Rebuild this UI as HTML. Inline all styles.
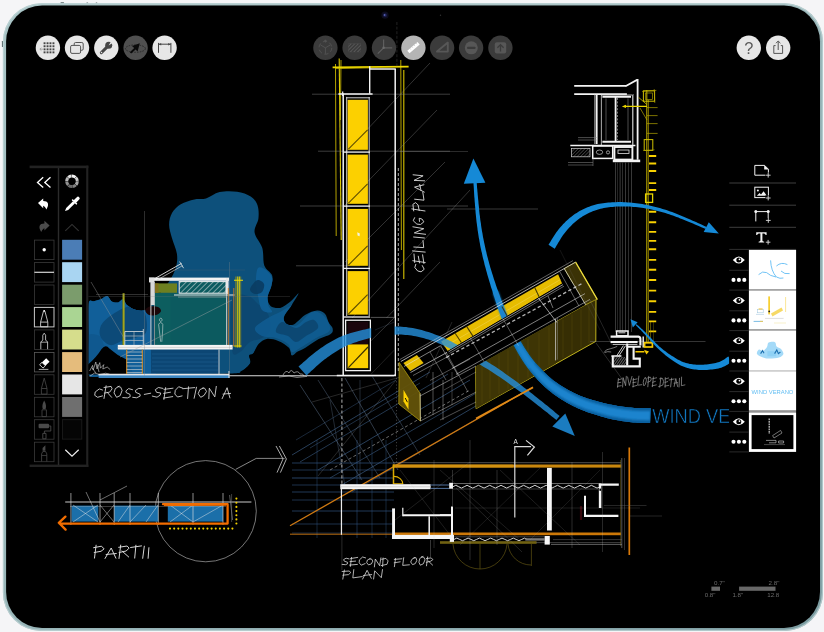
<!DOCTYPE html>
<html><head><meta charset="utf-8"><title>Trace</title>
<style>
html,body{margin:0;padding:0;background:#f5f5f7;}
body{width:824px;height:632px;overflow:hidden;font-family:"Liberation Sans",sans-serif;}
svg{display:block;position:absolute;left:0;top:0;}
text{font-family:"Liberation Sans",sans-serif;opacity:0.99;}
</style></head><body>
<svg width="824" height="632" viewBox="0 0 824 632">
<defs>
<linearGradient id="rimG" x1="0" x2="1" y1="0" y2="1"><stop offset="0" stop-color="#a9c4c6"/><stop offset="0.5" stop-color="#98b5b8"/><stop offset="1" stop-color="#7b9ba0"/></linearGradient>
<clipPath id="scr"><rect x="6.1" y="5.6" width="813.9" height="622.4" rx="36" ry="36"/></clipPath>
<clipPath id="canvasclip"><rect x="6" y="5.6" width="723.3" height="622.4"/></clipPath>
<clipPath id="hc"><rect x="348.3" y="43.6" width="12.6" height="8.5"/></clipPath>
<filter id="b1" x="-5%" y="-5%" width="110%" height="110%"><feGaussianBlur stdDeviation="1.1"/></filter>
<clipPath id="ribclip"><rect x="440" y="150" width="210.2" height="300"/></clipPath>
<pattern id="hatch" width="3.8" height="3.8" patternUnits="userSpaceOnUse" patternTransform="rotate(-45)"><line x1="0" y1="0" x2="3.8" y2="0" stroke="#e8e8e8" stroke-width="1.0"/></pattern>
<pattern id="hatch3" width="2" height="2" patternUnits="userSpaceOnUse" patternTransform="rotate(-55)"><line x1="0" y1="0" x2="2" y2="0" stroke="#d8d8d8" stroke-width="0.9"/></pattern>
<pattern id="hatch2" width="2.4" height="2.4" patternUnits="userSpaceOnUse" patternTransform="rotate(-45)"><line x1="0" y1="0" x2="2.4" y2="0" stroke="#666" stroke-width="1"/></pattern>
</defs>

<rect x="0.0" y="0.0" width="824.0" height="632.0" fill="#f5f5f7" opacity="1" rx="0" />
<rect x="60.5" y="2.2" width="3.6" height="1.4" fill="#59686a" opacity="1" rx="0.6" />
<rect x="86.4" y="2.4" width="1.8" height="1.2" fill="#59686a" opacity="1" rx="0.5" />
<rect x="95.6" y="2.4" width="1.8" height="1.2" fill="#59686a" opacity="1" rx="0.5" />
<rect x="1.9" y="41.0" width="1.6" height="6.0" fill="#59686a" opacity="1" rx="0.6" />
<rect x="2.9" y="3.3" width="820.1" height="627.7" rx="38.5" ry="38.5" fill="url(#rimG)"/>
<rect x="3.5" y="3.9" width="818.9" height="626.5" rx="38" ry="38" fill="none" stroke="#bdd3d4" stroke-width="1.1" opacity="0.8"/>
<rect x="6.1" y="5.6" width="813.9" height="622.4" rx="36" ry="36" fill="#000"/>
<circle cx="385" cy="15.2" r="3.6" fill="#0c0c1c"/><circle cx="385" cy="15.2" r="2" fill="#1a1d4a"/><circle cx="384.6" cy="15" r="0.9" fill="#5560b0"/>
<circle cx="440.5" cy="15.3" r="0.7" fill="#333"/>
<g clip-path="url(#scr)">
<g clip-path="url(#canvasclip)">
<clipPath id="blobclip"><path d="M169.1 224.7 C169.1 220.5 170.1 216.4 172.0 213.0 C173.9 209.6 177.1 206.6 180.8 204.3 C184.5 202.0 190.2 200.4 194.4 199.4 C198.6 198.4 201.8 199.6 206.0 198.4 C210.2 197.2 214.4 193.1 219.6 192.0 C224.8 190.9 231.9 190.9 237.1 191.7 C242.3 192.4 247.3 194.2 250.7 196.5 C254.1 198.8 256.2 201.5 257.5 205.2 C258.8 208.9 258.9 214.3 258.4 218.8 C257.9 223.3 253.9 227.5 254.6 232.4 C255.2 237.3 260.7 242.5 262.3 248.0 C263.9 253.5 262.7 260.9 264.3 265.4 C265.9 269.9 270.8 271.8 272.0 275.1 C273.2 278.5 272.2 281.8 271.5 285.5 C270.8 289.2 267.8 293.8 267.6 297.2 C267.4 300.6 268.4 304.1 270.5 305.9 C272.6 307.7 277.0 308.5 280.2 307.9 C283.4 307.2 286.8 304.4 289.9 302.0 C293.0 299.6 298.3 292.8 298.6 293.3 C298.9 293.8 294.2 301.1 291.8 305.0 C289.4 308.9 285.1 313.5 284.1 316.6 C283.1 319.7 284.4 322.1 286.0 323.4 C287.6 324.7 290.6 325.8 293.8 324.4 C297.0 322.9 301.5 317.0 305.4 314.7 C309.3 312.4 313.9 310.6 317.1 310.4 C320.4 310.2 323.0 311.7 324.9 313.7 C326.8 315.7 327.4 320.0 328.7 322.4 C330.0 324.8 332.3 326.4 332.6 328.3 C332.9 330.2 333.3 332.2 330.7 334.1 C328.1 336.0 321.3 337.6 317.1 339.9 C312.9 342.2 308.6 345.8 305.4 347.7 C302.2 349.6 300.0 350.3 297.7 351.6 C295.4 352.9 293.3 356.0 291.8 355.4 C290.3 354.8 291.1 350.1 288.9 347.7 C286.6 345.3 282.0 342.4 278.3 340.9 C274.6 339.4 269.9 338.4 266.6 338.9 C263.4 339.4 261.1 341.4 258.8 343.8 C256.5 346.2 254.6 351.6 253.0 353.5 C251.4 355.4 249.6 353.8 249.1 355.4 C248.6 357.0 251.4 360.6 250.1 363.2 C248.8 365.8 244.8 369.3 241.4 371.0 C238.0 372.7 244.9 372.9 229.7 373.5 C214.5 374.1 169.9 374.2 150.0 374.4 C130.1 374.5 120.2 374.4 110.0 374.4 C99.8 374.4 92.1 380.1 88.5 374.4 C84.9 368.7 88.5 351.7 88.5 340.0 C88.5 328.3 87.6 310.5 88.5 304.0 C89.4 297.5 92.0 302.0 94.0 301.2 C96.0 300.4 98.6 300.1 100.8 299.2 C103.0 298.3 105.3 295.6 107.2 296.0 C109.1 296.4 110.1 300.5 111.9 301.6 C113.7 302.7 116.4 302.8 118.2 302.4 C120.0 302.0 121.4 298.7 123.0 299.2 C124.6 299.7 125.3 303.8 127.7 305.6 C130.1 307.5 133.8 309.8 137.2 310.3 C140.6 310.8 144.8 311.1 148.3 308.7 C151.8 306.3 154.6 300.4 158.0 296.0 C161.4 291.6 165.8 286.8 168.8 282.0 C171.8 277.2 174.6 272.1 175.9 267.4 C177.2 262.7 177.6 258.6 176.9 253.8 C176.2 249.0 173.3 243.2 172.0 238.3 C170.7 233.5 169.1 228.9 169.1 224.7Z"/></clipPath>
<path d="M169.1 224.7 C169.1 220.5 170.1 216.4 172.0 213.0 C173.9 209.6 177.1 206.6 180.8 204.3 C184.5 202.0 190.2 200.4 194.4 199.4 C198.6 198.4 201.8 199.6 206.0 198.4 C210.2 197.2 214.4 193.1 219.6 192.0 C224.8 190.9 231.9 190.9 237.1 191.7 C242.3 192.4 247.3 194.2 250.7 196.5 C254.1 198.8 256.2 201.5 257.5 205.2 C258.8 208.9 258.9 214.3 258.4 218.8 C257.9 223.3 253.9 227.5 254.6 232.4 C255.2 237.3 260.7 242.5 262.3 248.0 C263.9 253.5 262.7 260.9 264.3 265.4 C265.9 269.9 270.8 271.8 272.0 275.1 C273.2 278.5 272.2 281.8 271.5 285.5 C270.8 289.2 267.8 293.8 267.6 297.2 C267.4 300.6 268.4 304.1 270.5 305.9 C272.6 307.7 277.0 308.5 280.2 307.9 C283.4 307.2 286.8 304.4 289.9 302.0 C293.0 299.6 298.3 292.8 298.6 293.3 C298.9 293.8 294.2 301.1 291.8 305.0 C289.4 308.9 285.1 313.5 284.1 316.6 C283.1 319.7 284.4 322.1 286.0 323.4 C287.6 324.7 290.6 325.8 293.8 324.4 C297.0 322.9 301.5 317.0 305.4 314.7 C309.3 312.4 313.9 310.6 317.1 310.4 C320.4 310.2 323.0 311.7 324.9 313.7 C326.8 315.7 327.4 320.0 328.7 322.4 C330.0 324.8 332.3 326.4 332.6 328.3 C332.9 330.2 333.3 332.2 330.7 334.1 C328.1 336.0 321.3 337.6 317.1 339.9 C312.9 342.2 308.6 345.8 305.4 347.7 C302.2 349.6 300.0 350.3 297.7 351.6 C295.4 352.9 293.3 356.0 291.8 355.4 C290.3 354.8 291.1 350.1 288.9 347.7 C286.6 345.3 282.0 342.4 278.3 340.9 C274.6 339.4 269.9 338.4 266.6 338.9 C263.4 339.4 261.1 341.4 258.8 343.8 C256.5 346.2 254.6 351.6 253.0 353.5 C251.4 355.4 249.6 353.8 249.1 355.4 C248.6 357.0 251.4 360.6 250.1 363.2 C248.8 365.8 244.8 369.3 241.4 371.0 C238.0 372.7 244.9 372.9 229.7 373.5 C214.5 374.1 169.9 374.2 150.0 374.4 C130.1 374.5 120.2 374.4 110.0 374.4 C99.8 374.4 92.1 380.1 88.5 374.4 C84.9 368.7 88.5 351.7 88.5 340.0 C88.5 328.3 87.6 310.5 88.5 304.0 C89.4 297.5 92.0 302.0 94.0 301.2 C96.0 300.4 98.6 300.1 100.8 299.2 C103.0 298.3 105.3 295.6 107.2 296.0 C109.1 296.4 110.1 300.5 111.9 301.6 C113.7 302.7 116.4 302.8 118.2 302.4 C120.0 302.0 121.4 298.7 123.0 299.2 C124.6 299.7 125.3 303.8 127.7 305.6 C130.1 307.5 133.8 309.8 137.2 310.3 C140.6 310.8 144.8 311.1 148.3 308.7 C151.8 306.3 154.6 300.4 158.0 296.0 C161.4 291.6 165.8 286.8 168.8 282.0 C171.8 277.2 174.6 272.1 175.9 267.4 C177.2 262.7 177.6 258.6 176.9 253.8 C176.2 249.0 173.3 243.2 172.0 238.3 C170.7 233.5 169.1 228.9 169.1 224.7Z" fill="#0d507b" opacity="1" />
<g clip-path="url(#blobclip)">
<path d="M86.0 290.0 C96.7 275.3 138.8 285.0 150.0 290.0 C161.2 295.0 153.0 310.8 153.0 320.0 C153.0 329.2 150.2 335.3 150.0 345.0 C149.8 354.7 162.7 372.5 152.0 378.0 C141.3 383.5 97.0 392.7 86.0 378.0 C75.0 363.3 75.3 304.7 86.0 290.0Z" fill="#115f99" opacity="1" />
<path d="M86.0 338.0 C88.3 331.0 97.0 334.8 100.0 336.0 C103.0 337.2 102.0 342.3 104.0 345.0 C106.0 347.7 108.3 349.5 112.0 352.0 C115.7 354.5 123.0 355.7 126.0 360.0 C129.0 364.3 136.7 375.0 130.0 378.0 C123.3 381.0 93.3 384.7 86.0 378.0 C78.7 371.3 83.7 345.0 86.0 338.0Z" fill="#0f588e" opacity="0.9" />
<path d="M105.6 319.8 C108.6 317.0 113.5 313.4 118.0 311.0 C122.5 308.6 128.7 305.9 132.5 305.6 C136.3 305.3 138.8 307.2 141.0 309.0 C143.2 310.8 145.2 312.7 146.0 316.6 C146.8 320.5 147.8 328.9 146.0 332.5 C144.2 336.1 138.8 336.7 135.0 338.0 C131.2 339.3 127.1 339.2 123.0 340.4 C118.9 341.6 114.0 345.6 110.3 345.1 C106.6 344.6 102.5 340.1 100.8 337.2 C99.1 334.3 99.4 330.6 100.2 327.7 C101.0 324.8 102.6 322.6 105.6 319.8Z" fill="#0c4a78" opacity="1" />
<path d="M232.0 300.0 C234.7 291.0 243.7 295.3 248.0 296.0 C252.3 296.7 254.7 301.0 258.0 304.0 C261.3 307.0 266.0 309.7 268.0 314.0 C270.0 318.3 271.0 326.0 270.0 330.0 C269.0 334.0 265.3 336.0 262.0 338.0 C258.7 340.0 253.7 339.7 250.0 342.0 C246.3 344.3 243.0 350.7 240.0 352.0 C237.0 353.3 233.3 358.7 232.0 350.0 C230.7 341.3 229.3 309.0 232.0 300.0Z" fill="#0c4670" opacity="0.9" />
<path d="M258.0 268.0 C259.7 266.0 263.5 268.0 266.0 270.0 C268.5 272.0 272.3 276.3 273.0 280.0 C273.7 283.7 270.8 288.0 270.0 292.0 C269.2 296.0 267.7 300.7 268.0 304.0 C268.3 307.3 273.0 311.0 272.0 312.0 C271.0 313.0 264.3 312.7 262.0 310.0 C259.7 307.3 259.0 300.7 258.0 296.0 C257.0 291.3 256.0 286.7 256.0 282.0 C256.0 277.3 256.3 270.0 258.0 268.0Z" fill="#10609a" opacity="0.85" />
<path d="M253.0 284.0 C254.3 282.3 256.2 280.0 258.0 280.0 C259.8 280.0 263.3 282.0 264.0 284.0 C264.7 286.0 263.5 290.3 262.0 292.0 C260.5 293.7 257.0 294.3 255.0 294.0 C253.0 293.7 250.3 291.7 250.0 290.0 C249.7 288.3 251.7 285.7 253.0 284.0Z" fill="#0a3c62" opacity="0.9" />
<path d="M268.0 318.0 C272.2 315.3 276.0 314.0 280.0 312.0 C284.0 310.0 291.0 304.7 292.0 306.0 C293.0 307.3 285.3 316.7 286.0 320.0 C286.7 323.3 291.7 327.3 296.0 326.0 C300.3 324.7 307.3 313.7 312.0 312.0 C316.7 310.3 321.0 313.0 324.0 316.0 C327.0 319.0 331.3 326.3 330.0 330.0 C328.7 333.7 321.0 335.0 316.0 338.0 C311.0 341.0 304.0 345.7 300.0 348.0 C296.0 350.3 294.0 352.7 292.0 352.0 C290.0 351.3 290.7 346.3 288.0 344.0 C285.3 341.7 280.3 339.3 276.0 338.0 C271.7 336.7 265.5 337.7 262.0 336.0 C258.5 334.3 254.0 331.0 255.0 328.0 C256.0 325.0 263.8 320.7 268.0 318.0Z" fill="#115d93" opacity="0.85" />
<path d="M282.0 322.0 C285.3 321.3 292.0 328.0 296.0 328.0 C300.0 328.0 303.0 323.3 306.0 322.0 C309.0 320.7 312.0 319.0 314.0 320.0 C316.0 321.0 319.3 325.3 318.0 328.0 C316.7 330.7 309.7 333.7 306.0 336.0 C302.3 338.3 299.0 342.0 296.0 342.0 C293.0 342.0 291.3 337.7 288.0 336.0 C284.7 334.3 277.0 334.3 276.0 332.0 C275.0 329.7 278.7 322.7 282.0 322.0Z" fill="#0c4670" opacity="0.9" />
</g>
<path d="M88 364.4 Q96 358 101.6 349 Q105.6 343.6 109.4 348.4 Q116.6 355 126.4 359.6 L127 374.6 L88 374.6 Z" fill="#000" opacity="1" />
<path d="M258.8 345.0 C261.0 342.8 263.4 340.9 266.6 340.5 C269.9 340.1 274.7 341.1 278.3 342.5 C281.9 343.9 285.9 346.6 288.0 349.0 C290.1 351.4 291.7 354.2 291.0 357.0 C290.3 359.8 288.8 363.5 284.0 366.0 C279.2 368.5 268.7 371.0 262.0 372.0 C255.3 373.0 245.9 373.5 244.0 372.0 C242.1 370.5 249.6 365.7 250.5 363.0 C251.4 360.3 249.0 357.6 249.5 356.0 C250.0 354.4 251.9 355.3 253.5 353.5 C255.1 351.7 256.6 347.2 258.8 345.0Z" fill="#000" opacity="1" />
<rect x="98.6" y="374.6" width="131.0" height="3.4" fill="#3d86c0" opacity="1" rx="0" />
<rect x="98.6" y="374.6" width="131.0" height="1.0" fill="#9fc6e6" opacity="1" rx="0" />
<rect x="151.5" y="293.0" width="75.5" height="52.0" fill="#0c5a5f" opacity="1" rx="0" />
<rect x="151.5" y="293.0" width="3.0" height="52.0" fill="#0d4f70" opacity="1" rx="0" />
<rect x="154.5" y="293.0" width="16.0" height="52.0" fill="#0e625e" opacity="0.55" rx="0" />
<rect x="151.0" y="349.5" width="68.0" height="24.0" fill="#0c4674" opacity="1" rx="0" />
<line x1="152.0" y1="354.0" x2="218.0" y2="354.0" stroke="#2a6a9c" stroke-width="0.6" opacity="0.7" />
<line x1="152.0" y1="358.0" x2="218.0" y2="358.0" stroke="#2a6a9c" stroke-width="0.6" opacity="0.7" />
<line x1="152.0" y1="362.0" x2="218.0" y2="362.0" stroke="#2a6a9c" stroke-width="0.6" opacity="0.7" />
<line x1="152.0" y1="366.0" x2="218.0" y2="366.0" stroke="#2a6a9c" stroke-width="0.6" opacity="0.7" />
<line x1="152.0" y1="370.0" x2="218.0" y2="370.0" stroke="#2a6a9c" stroke-width="0.6" opacity="0.7" />
<path d="M145.2 310.0 C145.4 308.6 147.9 307.0 150.0 306.5 C152.1 306.0 156.2 306.2 158.0 307.0 C159.8 307.8 161.2 309.7 161.0 311.0 C160.8 312.3 159.0 314.1 157.0 314.8 C155.0 315.5 151.0 315.8 149.0 315.0 C147.0 314.2 145.0 311.4 145.2 310.0Z" fill="#1c0608" opacity="1" />
<rect x="149.0" y="277.6" width="80.0" height="3.2" fill="#f2f2f2" opacity="1" rx="0" />
<rect x="149.0" y="277.6" width="5.5" height="4.8" fill="#e0e0e0" opacity="1" rx="0" />
<rect x="150.4" y="282.0" width="4.4" height="23.0" fill="#d8d8d8" opacity="1" rx="0" />
<rect x="150.4" y="305.0" width="1.0" height="40.0" fill="#cfcfcf" opacity="1" rx="0" />
<rect x="154.0" y="305.0" width="0.8" height="40.0" fill="#9a9a9a" opacity="1" rx="0" />
<rect x="155.0" y="283.4" width="22.0" height="9.4" fill="#6d8020" opacity="1" rx="0" />
<rect x="155.0" y="283.4" width="3.5" height="9.4" fill="#80701c" opacity="1" rx="0" />
<rect x="179.2" y="281.6" width="46.8" height="11.6" fill="#0c5b60" opacity="1" rx="0" />
<rect x="179.2" y="281.6" width="46.8" height="11.6" fill="url(#hatch)" stroke="#f0f0f0" stroke-width="1" opacity="1" rx="0" />
<rect x="226.0" y="278.0" width="2.6" height="16.0" fill="#e8e8e8" opacity="1" rx="0" />
<line x1="174.0" y1="295.0" x2="234.5" y2="295.0" stroke="#e8e8e8" stroke-width="1.2" opacity="1" />
<line x1="178.0" y1="297.0" x2="226.0" y2="297.0" stroke="#bdbdbd" stroke-width="0.6" opacity="1" />
<line x1="154.0" y1="279.0" x2="181.6" y2="263.4" stroke="#e8e8e8" stroke-width="0.9" opacity="1" />
<line x1="156.0" y1="280.6" x2="182.6" y2="265.6" stroke="#d0d0d0" stroke-width="0.7" opacity="1" />
<line x1="179.6" y1="261.6" x2="183.6" y2="268.2" stroke="#e8e8e8" stroke-width="0.8" opacity="1" />
<rect x="117.8" y="344.9" width="114.8" height="4.6" fill="#f4f4f4" opacity="1" rx="0" />
<line x1="117.8" y1="347.4" x2="232.6" y2="347.4" stroke="#bdbdbd" stroke-width="0.6" opacity="1" />
<line x1="226.6" y1="293.0" x2="226.6" y2="345.0" stroke="#d8d8d8" stroke-width="0.9" opacity="1" />
<line x1="219.0" y1="349.5" x2="219.0" y2="374.0" stroke="#d8d8d8" stroke-width="0.9" opacity="1" />
<line x1="98.6" y1="374.4" x2="229.0" y2="374.4" stroke="#e6e6e6" stroke-width="1.2" opacity="1" />
<line x1="229.0" y1="371.0" x2="229.0" y2="378.0" stroke="#e6e6e6" stroke-width="1" opacity="1" />
<line x1="229.0" y1="375.8" x2="394.0" y2="375.8" stroke="#dcdcdc" stroke-width="1.1" opacity="1" />
<line x1="235.9" y1="276.5" x2="235.9" y2="347.6" stroke="#b9a600" stroke-width="0.7" opacity="1" />
<line x1="237.4" y1="276.5" x2="237.4" y2="347.6" stroke="#e0cc00" stroke-width="0.9" opacity="1" />
<line x1="239.2" y1="276.5" x2="239.2" y2="347.6" stroke="#ecd800" stroke-width="1.2" opacity="1" />
<line x1="240.7" y1="276.5" x2="240.7" y2="347.6" stroke="#b9a600" stroke-width="0.6" opacity="1" />
<line x1="234.0" y1="280.3" x2="243.0" y2="280.3" stroke="#f1de00" stroke-width="1.1" opacity="1" />
<line x1="233.5" y1="346.0" x2="241.5" y2="346.0" stroke="#e9d500" stroke-width="1.0" opacity="1" />
<line x1="228.3" y1="288.0" x2="228.3" y2="345.0" stroke="#d27a1e" stroke-width="0.9" opacity="1" />
<line x1="233.8" y1="288.0" x2="233.8" y2="346.0" stroke="#d27a1e" stroke-width="0.9" opacity="1" />
<line x1="123.8" y1="293.3" x2="123.8" y2="345.0" stroke="#a8a81c" stroke-width="1.6" opacity="1" />
<line x1="122.6" y1="293.3" x2="122.6" y2="345.0" stroke="#6f7a18" stroke-width="0.7" opacity="1" />
<line x1="124.8" y1="331.5" x2="143.3" y2="331.5" stroke="#e0e0e0" stroke-width="0.8" opacity="1" />
<line x1="124.8" y1="336.0" x2="143.3" y2="336.0" stroke="#cfcfcf" stroke-width="0.6" opacity="1" />
<line x1="124.8" y1="340.5" x2="143.3" y2="340.5" stroke="#cfcfcf" stroke-width="0.6" opacity="1" />
<line x1="124.8" y1="331.5" x2="124.8" y2="345.0" stroke="#e0e0e0" stroke-width="0.8" opacity="1" />
<line x1="143.3" y1="329.0" x2="143.3" y2="345.0" stroke="#e0e0e0" stroke-width="0.8" opacity="1" />
<line x1="134.0" y1="331.5" x2="134.0" y2="345.0" stroke="#bdbdbd" stroke-width="0.6" opacity="1" />
<line x1="126.7" y1="349.5" x2="126.7" y2="374.0" stroke="#d98a1c" stroke-width="1.1" opacity="1" />
<line x1="142.3" y1="349.5" x2="142.3" y2="374.0" stroke="#d98a1c" stroke-width="1.1" opacity="1" />
<line x1="126.7" y1="352.0" x2="142.3" y2="352.0" stroke="#d6d6d6" stroke-width="0.7" opacity="0.85" />
<line x1="126.7" y1="355.5" x2="142.3" y2="355.5" stroke="#d6d6d6" stroke-width="0.7" opacity="0.85" />
<line x1="126.7" y1="359.0" x2="142.3" y2="359.0" stroke="#d6d6d6" stroke-width="0.7" opacity="0.85" />
<line x1="126.7" y1="362.5" x2="142.3" y2="362.5" stroke="#d6d6d6" stroke-width="0.7" opacity="0.85" />
<line x1="126.7" y1="366.0" x2="142.3" y2="366.0" stroke="#d6d6d6" stroke-width="0.7" opacity="0.85" />
<line x1="126.7" y1="369.5" x2="142.3" y2="369.5" stroke="#d6d6d6" stroke-width="0.7" opacity="0.85" />
<line x1="126.7" y1="372.5" x2="142.3" y2="372.5" stroke="#d6d6d6" stroke-width="0.7" opacity="0.85" />
<path d="M160.7 341.8 L159.4 331 L158.6 324.5 Q160.7 320.5 162.8 324.5 L162.6 331 L161.8 341.8 M160.7 318.2 a1.3 1.6 0 1 0 0.1 0" fill="none" stroke="#cfd8d8" stroke-width="0.6" opacity="1" />
<line x1="144.3" y1="211.0" x2="144.3" y2="376.0" stroke="#8a8a8a" stroke-width="0.6" opacity="0.7" />
<line x1="91.0" y1="282.0" x2="124.0" y2="338.0" stroke="#9a9a9a" stroke-width="0.6" opacity="0.7" />
<line x1="96.0" y1="294.5" x2="148.0" y2="294.5" stroke="#8a8a8a" stroke-width="0.5" opacity="0.7" />
<line x1="85.0" y1="296.3" x2="290.0" y2="296.3" stroke="#7a7a7a" stroke-width="0.5" opacity="0.55" />
<line x1="120.0" y1="357.0" x2="232.0" y2="300.0" stroke="#a8a8a8" stroke-width="0.6" opacity="0.7" />
<line x1="229.5" y1="262.0" x2="229.5" y2="378.0" stroke="#8a8a8a" stroke-width="0.5" opacity="0.6" />
<line x1="172.0" y1="270.0" x2="245.0" y2="270.0" stroke="#6a6a6a" stroke-width="0.4" opacity="0.5" />
<path d="M89.6 371 l3 -5.6 l0.6 4.6 l2.6 -8 l1.2 7 l2.8 -6.4 l0.6 5.6 l3.4 -3.6 l-1 4.4 l4.4 -2 l3 2.6 M89.6 376.4 l5 -3.4 l5 1.6 l6 -1.4 l4 1 M92 368 l4 5 M97 364 l2 8" fill="none" stroke="#d8d8d8" stroke-width="0.6" opacity="1" />
<path d="M283 375 q3 -6 6 -2 q2 -5 5 0 q4 -3 6 1 q3 -1 4 2 M279 377 l10 -1 l8 1.4 l10 -1" fill="none" stroke="#d8d8d8" stroke-width="0.6" opacity="1" />
<line x1="335.5" y1="64.0" x2="336.2" y2="236.0" stroke="#c8b400" stroke-width="0.9" opacity="1" />
<line x1="339.2" y1="58.6" x2="341.2" y2="240.0" stroke="#e0cc00" stroke-width="1.1" opacity="1" />
<line x1="341.0" y1="60.0" x2="340.4" y2="120.0" stroke="#d8c400" stroke-width="0.8" opacity="1" />
<line x1="400.8" y1="60.0" x2="401.4" y2="250.0" stroke="#c8b400" stroke-width="0.9" opacity="1" />
<line x1="403.8" y1="70.0" x2="403.8" y2="279.0" stroke="#d8c400" stroke-width="1.1" opacity="1" />
<line x1="332.6" y1="67.4" x2="408.6" y2="66.6" stroke="#ecd800" stroke-width="1.6" opacity="1" />
<line x1="336.0" y1="68.6" x2="372.0" y2="67.8" stroke="#c8b400" stroke-width="0.8" opacity="1" />
<line x1="312.0" y1="94.2" x2="450.0" y2="94.2" stroke="#8c8c8c" stroke-width="0.6" opacity="0.75" />
<line x1="318.0" y1="151.2" x2="450.0" y2="151.2" stroke="#8c8c8c" stroke-width="0.6" opacity="0.75" />
<line x1="300.0" y1="206.0" x2="468.0" y2="206.0" stroke="#8c8c8c" stroke-width="0.6" opacity="0.75" />
<line x1="296.0" y1="265.8" x2="360.0" y2="265.8" stroke="#8c8c8c" stroke-width="0.6" opacity="0.75" />
<line x1="345.0" y1="153.0" x2="430.0" y2="63.0" stroke="#8c8c8c" stroke-width="0.6" opacity="0.6" />
<line x1="345.0" y1="205.0" x2="437.0" y2="110.0" stroke="#8c8c8c" stroke-width="0.6" opacity="0.6" />
<line x1="345.0" y1="262.0" x2="445.0" y2="162.0" stroke="#8c8c8c" stroke-width="0.6" opacity="0.6" />
<line x1="352.0" y1="318.0" x2="470.0" y2="190.0" stroke="#8c8c8c" stroke-width="0.6" opacity="0.6" />
<line x1="375.0" y1="330.0" x2="440.0" y2="262.0" stroke="#8c8c8c" stroke-width="0.6" opacity="0.6" />
<line x1="447.0" y1="209.0" x2="538.0" y2="209.0" stroke="#8c8c8c" stroke-width="0.6" opacity="0.7" />
<line x1="400.0" y1="151.5" x2="468.0" y2="151.5" stroke="#8c8c8c" stroke-width="0.5" opacity="0.6" />
<rect x="347.6" y="99.8" width="20.3" height="50.0" fill="#fcd000" opacity="1" rx="0" />
<line x1="348.4" y1="149.2" x2="367.6" y2="129.8" stroke="#4a3c00" stroke-width="1.1" opacity="0.9" />
<rect x="347.6" y="154.6" width="20.3" height="49.2" fill="#fcd000" opacity="1" rx="0" />
<line x1="348.4" y1="203.2" x2="367.6" y2="183.8" stroke="#4a3c00" stroke-width="1.1" opacity="0.9" />
<rect x="347.6" y="208.9" width="20.3" height="56.9" fill="#fcd000" opacity="1" rx="0" />
<line x1="348.4" y1="265.2" x2="367.6" y2="245.8" stroke="#4a3c00" stroke-width="1.1" opacity="0.9" />
<rect x="347.6" y="271.1" width="20.3" height="43.5" fill="#fcd000" opacity="1" rx="0" />
<line x1="348.4" y1="314.0" x2="367.6" y2="294.6" stroke="#4a3c00" stroke-width="1.1" opacity="0.9" />
<rect x="345.6" y="320.2" width="24.8" height="50.4" fill="#000" stroke="#f2f2f2" stroke-width="1.3" opacity="1" rx="0" />
<rect x="347.6" y="321.8" width="20.6" height="22.6" fill="#1a050c" opacity="1" rx="0" />
<rect x="347.6" y="344.4" width="20.6" height="23.8" fill="#fcd000" opacity="1" rx="0" />
<line x1="348.4" y1="367.6" x2="368.0" y2="347.0" stroke="#3a3000" stroke-width="1.2" opacity="1" />
<line x1="343.2" y1="93.4" x2="343.2" y2="375.8" stroke="#f4f4f4" stroke-width="1.5" opacity="1" />
<line x1="346.7" y1="96.9" x2="346.7" y2="316.0" stroke="#e4e4e4" stroke-width="0.9" opacity="1" />
<line x1="346.4" y1="97.8" x2="369.6" y2="97.8" stroke="#e4e4e4" stroke-width="0.9" opacity="1" />
<line x1="369.2" y1="97.0" x2="369.2" y2="316.0" stroke="#e8e8e8" stroke-width="0.9" opacity="1" />
<line x1="338.4" y1="94.0" x2="372.6" y2="94.0" stroke="#f4f4f4" stroke-width="1.5" opacity="1" />
<line x1="342.7" y1="91.4" x2="342.7" y2="96.0" stroke="#f4f4f4" stroke-width="1.2" opacity="1" />
<line x1="343.6" y1="152.2" x2="370.0" y2="152.2" stroke="#f0f0f0" stroke-width="1.3" opacity="1" />
<line x1="343.6" y1="206.2" x2="370.0" y2="206.2" stroke="#f0f0f0" stroke-width="1.3" opacity="1" />
<line x1="343.6" y1="268.4" x2="370.0" y2="268.4" stroke="#f0f0f0" stroke-width="1.3" opacity="1" />
<line x1="343.6" y1="317.0" x2="370.0" y2="317.0" stroke="#f0f0f0" stroke-width="1.3" opacity="1" />
<line x1="369.7" y1="66.2" x2="369.7" y2="93.8" stroke="#f4f4f4" stroke-width="1.4" opacity="1" />
<line x1="369.0" y1="69.0" x2="395.8" y2="69.0" stroke="#f4f4f4" stroke-width="1.4" opacity="1" />
<line x1="395.2" y1="69.0" x2="395.2" y2="376.0" stroke="#f4f4f4" stroke-width="1.5" opacity="1" />
<line x1="336.8" y1="375.6" x2="396.0" y2="375.6" stroke="#f4f4f4" stroke-width="1.5" opacity="1" />
<line x1="398.4" y1="168.0" x2="398.4" y2="372.0" stroke="#9a9a9a" stroke-width="1.2" opacity="0.9" stroke-dasharray="3 2"/>
<line x1="370.6" y1="317.4" x2="394.8" y2="317.4" stroke="#8c8c8c" stroke-width="0.6" opacity="1" />
<line x1="396.9" y1="22.0" x2="396.9" y2="67.0" stroke="#6a6a6a" stroke-width="0.7" opacity="0.45" stroke-dasharray="3 1.6"/>
<path d="M357.2 232.2 l2.6 1.2 l-0.2 2.8 l-2 -0.6 z" fill="#f2f2e0" opacity="1" />
<path d="M8.1 1.2 L4.9 0.2 L1.4 3.1 L0.6 6.5 L3.1 9.6 L6.8 7.7 M11.7 -1.8 L9.9 10.6 M9.9 0.1 L18.4 -0.6 M9.5 4.9 L16.2 3.7 M8.9 9.3 L17.6 8.0 M21.5 -2.1 L20.3 10.6 M25.4 -0.8 L24.8 9.1 L31.8 8.4 M35.4 -1.0 L34.4 9.8 M38.1 11.0 L39.5 -0.3 L43.7 9.2 L45.6 -1.7 M54.7 0.0 L51.7 -1.4 L48.3 2.3 L47.9 6.0 L50.6 9.3 L53.4 7.3 L54.1 4.6 L51.0 4.9 M63.5 -2.8 L61.4 10.4 M61.5 -0.9 L68.1 -1.7 L69.8 1.1 L67.4 3.5 L61.8 4.6 M73.2 0.0 L72.2 9.4 L80.2 8.2 M80.3 9.7 L85.3 -0.1 L87.6 9.3 M82.0 6.4 L88.0 5.1 M91.6 10.0 L92.0 -0.6 L96.6 8.5 L97.6 -1.5" fill="none" stroke="#dedede" stroke-width="0.9" stroke-linecap="round" stroke-linejoin="round" opacity="1.0" transform="translate(414.6 272.4) rotate(-90)"/>
<line x1="292.0" y1="455.0" x2="430.0" y2="372.0" stroke="#3f628c" stroke-width="0.8" opacity="0.8" />
<line x1="300.0" y1="462.0" x2="448.0" y2="374.0" stroke="#3f628c" stroke-width="0.8" opacity="0.7" />
<line x1="318.0" y1="470.0" x2="470.0" y2="380.0" stroke="#3f628c" stroke-width="0.8" opacity="0.8" />
<line x1="330.0" y1="478.0" x2="478.0" y2="392.0" stroke="#3f628c" stroke-width="0.8" opacity="0.7" />
<line x1="340.0" y1="486.0" x2="486.0" y2="400.0" stroke="#3f628c" stroke-width="0.8" opacity="0.8" />
<line x1="352.0" y1="492.0" x2="480.0" y2="417.0" stroke="#3f628c" stroke-width="0.8" opacity="0.6" />
<line x1="310.0" y1="448.0" x2="420.0" y2="383.0" stroke="#3f628c" stroke-width="0.8" opacity="0.6" />
<line x1="296.0" y1="440.0" x2="396.0" y2="380.0" stroke="#3f628c" stroke-width="0.8" opacity="0.5" />
<line x1="300.0" y1="385.0" x2="362.0" y2="480.0" stroke="#6f88a8" stroke-width="0.6" opacity="0.7" />
<line x1="318.0" y1="380.0" x2="380.0" y2="478.0" stroke="#6f88a8" stroke-width="0.6" opacity="0.6" />
<line x1="345.0" y1="378.0" x2="398.0" y2="470.0" stroke="#6f88a8" stroke-width="0.6" opacity="0.7" />
<line x1="372.0" y1="376.0" x2="420.0" y2="455.0" stroke="#6f88a8" stroke-width="0.6" opacity="0.6" />
<line x1="330.0" y1="400.0" x2="345.0" y2="486.0" stroke="#6f88a8" stroke-width="0.6" opacity="0.5" />
<line x1="360.0" y1="380.0" x2="360.0" y2="480.0" stroke="#6f88a8" stroke-width="0.6" opacity="0.5" />
<line x1="312.0" y1="402.0" x2="404.0" y2="376.0" stroke="#9a9a9a" stroke-width="0.5" opacity="0.5" />
<line x1="318.0" y1="476.0" x2="396.0" y2="380.0" stroke="#9a9a9a" stroke-width="0.5" opacity="0.5" />
<line x1="292.0" y1="463.0" x2="394.0" y2="463.0" stroke="#365a8a" stroke-width="0.9" opacity="0.7" />
<line x1="292.0" y1="470.0" x2="394.0" y2="470.0" stroke="#365a8a" stroke-width="0.9" opacity="0.6" />
<line x1="292.0" y1="478.0" x2="394.0" y2="478.0" stroke="#365a8a" stroke-width="0.9" opacity="0.8" />
<line x1="292.0" y1="485.0" x2="394.0" y2="485.0" stroke="#365a8a" stroke-width="0.9" opacity="0.6" />
<line x1="292.0" y1="492.0" x2="394.0" y2="492.0" stroke="#365a8a" stroke-width="0.9" opacity="0.7" />
<line x1="292.0" y1="500.0" x2="394.0" y2="500.0" stroke="#365a8a" stroke-width="0.9" opacity="0.6" />
<line x1="292.0" y1="511.0" x2="394.0" y2="511.0" stroke="#365a8a" stroke-width="0.9" opacity="0.7" />
<line x1="292.0" y1="524.0" x2="394.0" y2="524.0" stroke="#365a8a" stroke-width="0.9" opacity="0.6" />
<line x1="292.0" y1="533.0" x2="394.0" y2="533.0" stroke="#365a8a" stroke-width="0.9" opacity="0.5" />
<line x1="317.0" y1="440.0" x2="317.0" y2="538.0" stroke="#365a8a" stroke-width="0.8" opacity="0.5" />
<line x1="357.0" y1="440.0" x2="357.0" y2="538.0" stroke="#365a8a" stroke-width="0.8" opacity="0.6" />
<line x1="372.0" y1="440.0" x2="372.0" y2="538.0" stroke="#365a8a" stroke-width="0.8" opacity="0.5" />
<line x1="386.0" y1="440.0" x2="386.0" y2="538.0" stroke="#365a8a" stroke-width="0.8" opacity="0.5" />
<line x1="341.9" y1="378.0" x2="341.9" y2="486.0" stroke="#bdbdbd" stroke-width="1.1" opacity="0.85" stroke-dasharray="3.2 2.2"/>
<line x1="341.9" y1="486.0" x2="341.9" y2="570.0" stroke="#8c8c8c" stroke-width="0.5" opacity="0.6" />
<line x1="396.6" y1="378.0" x2="396.6" y2="465.0" stroke="#8c8c8c" stroke-width="0.8" opacity="0.6" stroke-dasharray="1.2 2"/>
<line x1="330.0" y1="470.0" x2="470.0" y2="390.0" stroke="#9a9a9a" stroke-width="1" opacity="0.7" stroke-dasharray="3 2.4"/>
<polygon points="399.2,362.4 420.0,393.2 420.4,421.0 398.8,404.0" fill="#64540a" stroke="#c8b010" stroke-width="0.7" opacity="0.95" />
<polygon points="403.5,389.8 408.5,398.4 408.5,409.8 403.5,401.2" fill="#fcd000" opacity="1" />
<path d="M405.2 398 l2.2 4.2" fill="none" stroke="#221a00" stroke-width="1.0" opacity="1" />
<polygon points="475.5,366.5 596.0,298.8 595.8,341.4 476.1,408.7" fill="#383005" stroke="#d8c820" stroke-width="0.9" opacity="0.97" />
<polygon points="475.5,366.5 556.0,321.2 556.0,363.6 476.1,408.7" fill="#3f3606" opacity="0.9" />
<line x1="482.0" y1="364.8" x2="482.0" y2="403.4" stroke="#6a5c10" stroke-width="0.5" opacity="0.55" />
<line x1="490.0" y1="360.4" x2="490.0" y2="398.9" stroke="#6a5c10" stroke-width="0.5" opacity="0.55" />
<line x1="499.0" y1="355.3" x2="499.0" y2="393.8" stroke="#6a5c10" stroke-width="0.5" opacity="0.55" />
<line x1="508.0" y1="350.2" x2="508.0" y2="388.8" stroke="#6a5c10" stroke-width="0.5" opacity="0.55" />
<line x1="518.0" y1="344.6" x2="518.0" y2="383.1" stroke="#6a5c10" stroke-width="0.5" opacity="0.55" />
<line x1="528.0" y1="339.0" x2="528.0" y2="377.5" stroke="#6a5c10" stroke-width="0.5" opacity="0.55" />
<line x1="539.0" y1="332.8" x2="539.0" y2="371.3" stroke="#6a5c10" stroke-width="0.5" opacity="0.55" />
<line x1="549.0" y1="327.2" x2="549.0" y2="365.7" stroke="#6a5c10" stroke-width="0.5" opacity="0.55" />
<line x1="563.0" y1="319.3" x2="563.0" y2="357.8" stroke="#6a5c10" stroke-width="0.5" opacity="0.55" />
<line x1="572.0" y1="314.3" x2="572.0" y2="352.8" stroke="#6a5c10" stroke-width="0.5" opacity="0.55" />
<line x1="581.0" y1="309.2" x2="581.0" y2="347.7" stroke="#6a5c10" stroke-width="0.5" opacity="0.55" />
<line x1="589.0" y1="304.7" x2="589.0" y2="343.2" stroke="#6a5c10" stroke-width="0.5" opacity="0.55" />
<polygon points="564.2,268.5 575.6,262.1 597.0,299.1 585.6,304.8" fill="#3e3506" stroke="#bfae18" stroke-width="0.6" opacity="0.96" />
<polygon points="403.4,363.0 416.9,354.9 423.6,363.0 410.2,371.0" fill="#e6bc00" opacity="1" />
<polygon points="441.1,341.4 558.1,274.2 562.1,283.6 447.8,350.9" fill="#e6bc00" opacity="1" />
<line x1="444.6" y1="346.6" x2="560.4" y2="279.6" stroke="#f2d860" stroke-width="0.6" opacity="0.8" />
<polygon points="306.5,375.5 307.4,374.7 308.5,373.6 309.8,372.4 311.2,371.1 312.8,369.7 314.4,368.2 316.1,366.6 317.9,365.1 319.6,363.6 321.3,362.1 322.9,360.8 324.4,359.6 326.0,358.4 327.5,357.3 329.1,356.2 330.7,355.1 332.2,354.0 333.8,352.9 335.4,351.9 337.0,350.9 338.6,350.0 340.1,349.1 341.7,348.2 343.3,347.4 344.9,346.6 346.6,345.8 348.2,345.1 349.9,344.4 351.6,343.7 353.2,343.1 355.0,342.5 356.7,341.9 358.4,341.3 360.2,340.8 362.0,340.3 363.7,339.7 365.5,339.2 367.3,338.7 369.1,338.3 370.8,337.8 372.6,337.4 374.4,337.0 376.2,336.7 377.9,336.3 379.8,336.0 381.6,335.7 383.4,335.5 385.3,335.3 387.3,335.1 389.2,335.0 391.2,334.8 393.2,334.7 395.2,334.7 397.2,334.6 399.3,334.6 401.3,334.6 403.3,334.7 405.4,334.9 407.4,335.0 409.5,335.3 411.5,335.6 413.6,335.9 415.7,336.3 417.8,336.8 419.9,337.2 422.0,337.8 424.1,338.3 426.2,339.0 428.4,339.6 430.5,340.3 432.6,341.0 434.8,341.8 436.9,342.6 439.0,343.4 441.1,344.3 443.1,345.2 445.3,346.2 447.4,347.2 449.5,348.3 451.6,349.4 453.8,350.5 456.0,351.6 458.2,352.8 460.5,353.9 462.7,355.1 465.0,356.3 467.3,357.6 469.7,358.8 472.1,360.1 474.4,361.4 476.8,362.8 479.1,364.1 481.5,365.5 483.8,366.9 486.1,368.2 488.3,369.6 490.6,371.0 492.8,372.4 495.0,373.9 497.2,375.4 499.4,376.8 501.5,378.3 503.7,379.8 505.8,381.3 507.9,382.8 510.1,384.4 512.2,385.9 514.3,387.4 516.3,388.9 518.4,390.4 520.5,392.0 522.6,393.6 524.7,395.1 526.8,396.7 528.8,398.3 530.8,399.8 532.7,401.3 534.6,402.8 536.5,404.3 538.3,405.7 540.1,407.0 541.9,408.4 543.7,409.9 545.4,411.3 547.2,412.6 548.8,414.0 550.4,415.2 551.9,416.4 553.3,417.5 554.5,418.5 555.5,419.3 556.4,420.0 559.6,416.0 558.8,415.3 557.7,414.5 556.5,413.5 555.2,412.4 553.7,411.1 552.2,409.8 550.5,408.5 548.8,407.1 547.0,405.6 545.2,404.2 543.5,402.8 541.7,401.3 539.9,399.9 538.1,398.5 536.2,396.9 534.3,395.4 532.3,393.8 530.2,392.2 528.2,390.6 526.1,389.0 524.0,387.4 521.9,385.8 519.8,384.2 517.7,382.6 515.7,381.1 513.6,379.5 511.4,378.0 509.3,376.4 507.1,374.9 505.0,373.4 502.8,371.8 500.6,370.3 498.4,368.8 496.2,367.3 493.9,365.8 491.7,364.4 489.4,362.9 487.0,361.5 484.7,360.1 482.3,358.7 480.0,357.3 477.6,355.9 475.2,354.5 472.8,353.2 470.5,351.9 468.1,350.6 465.8,349.3 463.5,348.1 461.3,346.9 459.1,345.7 456.9,344.5 454.7,343.4 452.6,342.2 450.4,341.1 448.2,340.1 446.0,339.0 443.9,338.0 441.7,337.0 439.5,336.1 437.2,335.2 435.0,334.4 432.8,333.6 430.6,332.8 428.4,332.1 426.1,331.4 423.9,330.7 421.7,330.1 419.4,329.5 417.2,329.0 415.0,328.5 412.8,328.1 410.5,327.7 408.3,327.4 406.1,327.1 403.9,326.9 401.7,326.7 399.5,326.6 397.3,326.5 395.2,326.5 393.0,326.5 390.9,326.5 388.8,326.5 386.7,326.6 384.7,326.7 382.6,326.8 380.6,327.0 378.6,327.2 376.6,327.4 374.6,327.7 372.7,328.0 370.8,328.3 368.8,328.6 366.9,329.0 365.0,329.4 363.1,329.8 361.3,330.3 359.4,330.7 357.5,331.2 355.6,331.7 353.7,332.2 351.8,332.8 349.9,333.3 348.0,334.0 346.2,334.6 344.3,335.3 342.4,336.0 340.5,336.8 338.7,337.6 336.8,338.5 335.0,339.4 333.2,340.4 331.4,341.4 329.6,342.4 327.8,343.5 326.1,344.6 324.3,345.7 322.6,346.9 320.9,348.0 319.2,349.2 317.6,350.4 315.8,351.7 314.0,353.2 312.1,354.7 310.2,356.3 308.4,357.8 306.6,359.4 304.9,360.9 303.3,362.3 301.8,363.7 300.5,364.8 299.4,365.8 298.5,366.5" fill="#2490dc" opacity="0.8" />
<polygon points="552.3,426.6 565.3,413.6 574.8,436.1" fill="#1b7cc0" opacity="1" />
<rect x="371.2" y="318.0" width="23.3" height="56.0" fill="#000" opacity="1" rx="0" />
<line x1="371.2" y1="340.6" x2="394.4" y2="317.6" stroke="#8c8c8c" stroke-width="0.6" opacity="0.6" />
<line x1="371.2" y1="374.0" x2="394.4" y2="350.0" stroke="#7a7a7a" stroke-width="0.5" opacity="0.5" />
<line x1="375.0" y1="330.0" x2="394.4" y2="322.0" stroke="#6f88a8" stroke-width="0.5" opacity="0.4" />
<polygon points="473.4,182.1 473.5,183.0 473.5,184.0 473.6,185.3 473.7,186.6 473.8,188.1 473.9,189.8 474.0,191.4 474.1,193.2 474.2,194.9 474.3,196.7 474.5,198.5 474.6,200.2 474.7,201.8 474.9,203.6 475.0,205.4 475.2,207.2 475.3,209.0 475.5,210.9 475.6,212.7 475.8,214.6 476.0,216.5 476.2,218.5 476.4,220.4 476.6,222.3 476.9,224.2 477.1,226.1 477.4,228.0 477.6,229.9 477.9,231.8 478.2,233.8 478.5,235.7 478.8,237.7 479.2,239.6 479.5,241.6 479.9,243.5 480.2,245.4 480.6,247.4 481.0,249.3 481.4,251.2 481.9,253.1 482.3,255.1 482.7,257.0 483.2,258.9 483.7,260.8 484.2,262.8 484.6,264.7 485.2,266.7 485.7,268.6 486.2,270.6 486.8,272.6 487.3,274.6 487.9,276.6 488.5,278.6 489.1,280.6 489.7,282.6 490.3,284.6 490.9,286.7 491.6,288.7 492.3,290.8 492.9,292.9 493.6,295.0 494.3,297.1 495.0,299.3 495.7,301.5 496.4,303.7 497.2,305.9 498.0,308.2 498.7,310.4 499.5,312.6 500.3,314.8 501.2,317.1 502.0,319.2 502.9,321.4 503.8,323.6 504.7,325.7 505.6,327.9 506.5,330.0 507.5,332.2 508.5,334.3 509.5,336.5 510.5,338.6 511.5,340.7 512.6,342.8 513.7,344.9 514.8,346.9 515.9,348.9 517.0,351.0 518.1,353.0 519.3,355.0 520.5,357.0 521.7,359.0 523.0,361.0 524.3,363.0 525.7,365.0 527.1,366.9 528.5,368.8 530.0,370.7 531.5,372.6 533.0,374.4 534.6,376.3 536.2,378.1 537.8,379.9 539.5,381.7 541.3,383.5 543.1,385.2 544.9,386.9 546.8,388.6 548.8,390.2 550.8,391.8 552.8,393.4 554.9,394.9 557.1,396.4 559.3,397.9 561.6,399.4 563.8,400.8 566.1,402.2 568.4,403.5 570.8,404.7 573.1,406.0 575.4,407.1 577.8,408.3 580.3,409.3 582.7,410.3 585.2,411.3 587.7,412.2 590.2,413.0 592.6,413.8 595.1,414.6 597.5,415.3 599.8,416.0 602.1,416.7 604.3,417.3 606.5,417.9 608.8,418.4 610.9,418.9 613.1,419.4 615.2,419.8 617.3,420.2 619.4,420.6 621.4,420.9 623.4,421.2 625.3,421.5 627.3,421.8 629.2,422.1 631.2,422.3 633.3,422.4 635.4,422.6 637.5,422.7 639.5,422.8 641.5,422.9 643.4,422.9 645.1,423.0 646.7,423.0 648.1,423.0 649.2,423.1 650.1,423.1 650.7,408.3 649.6,408.3 648.4,408.3 646.9,408.2 645.4,408.2 643.7,408.2 641.9,408.2 640.0,408.1 638.1,408.1 636.2,408.0 634.4,407.9 632.6,407.7 630.8,407.5 629.0,407.4 627.2,407.2 625.3,407.0 623.4,406.7 621.6,406.5 619.6,406.2 617.7,405.9 615.8,405.6 613.8,405.2 611.8,404.8 609.8,404.4 607.7,403.9 605.5,403.4 603.3,402.9 601.0,402.3 598.7,401.8 596.4,401.1 594.1,400.5 591.7,399.8 589.4,399.1 587.2,398.4 584.9,397.6 582.7,396.7 580.6,395.9 578.4,394.9 576.2,393.9 574.0,392.9 571.8,391.8 569.6,390.7 567.4,389.5 565.3,388.3 563.2,387.0 561.1,385.8 559.1,384.5 557.1,383.1 555.2,381.8 553.4,380.4 551.6,379.0 549.9,377.6 548.1,376.1 546.5,374.6 544.8,373.0 543.2,371.4 541.6,369.8 540.0,368.2 538.5,366.5 537.0,364.9 535.5,363.2 534.1,361.5 532.7,359.8 531.4,358.0 530.0,356.2 528.8,354.4 527.5,352.6 526.3,350.7 525.0,348.8 523.8,346.9 522.7,345.0 521.5,343.1 520.3,341.1 519.2,339.2 518.1,337.2 517.0,335.2 515.9,333.2 514.9,331.2 513.8,329.2 512.8,327.1 511.8,325.1 510.8,323.0 509.8,320.9 508.9,318.8 508.0,316.8 507.0,314.7 506.1,312.6 505.3,310.4 504.4,308.3 503.6,306.1 502.7,303.9 501.9,301.8 501.1,299.6 500.3,297.5 499.6,295.3 498.8,293.2 498.1,291.1 497.3,289.1 496.6,287.0 495.9,285.0 495.3,283.0 494.6,281.0 493.9,279.0 493.3,277.1 492.7,275.1 492.1,273.2 491.5,271.2 490.9,269.3 490.3,267.4 489.8,265.4 489.2,263.5 488.7,261.6 488.2,259.7 487.7,257.8 487.2,255.9 486.7,254.0 486.3,252.1 485.8,250.2 485.4,248.3 485.0,246.5 484.6,244.6 484.2,242.7 483.8,240.8 483.4,238.8 483.0,236.9 482.7,235.0 482.4,233.1 482.0,231.2 481.7,229.3 481.4,227.4 481.1,225.5 480.9,223.6 480.6,221.7 480.3,219.9 480.1,218.0 479.9,216.1 479.6,214.2 479.4,212.4 479.2,210.5 479.1,208.7 478.9,206.8 478.7,205.0 478.5,203.3 478.4,201.5 478.2,199.8 478.0,198.1 477.9,196.4 477.7,194.7 477.6,192.9 477.4,191.2 477.3,189.5 477.1,187.9 477.0,186.4 476.9,185.0 476.8,183.8 476.7,182.7 476.6,181.9" fill="#1589d6" opacity="1" />
<polygon points="502.1,319.4 502.6,320.6 503.3,322.1 504.0,323.9 504.9,326.0 505.9,328.2 506.9,330.5 508.0,333.0 509.1,335.4 510.2,337.9 511.4,340.3 512.5,342.7 513.7,344.8 514.8,346.9 515.9,348.9 517.0,351.0 518.1,353.0 519.3,355.0 520.5,357.0 521.7,359.0 523.0,361.0 524.3,363.0 525.7,365.0 527.1,366.9 528.5,368.8 530.0,370.7 531.5,372.6 533.0,374.4 534.6,376.3 536.2,378.1 537.8,379.9 539.5,381.7 541.3,383.5 543.1,385.2 544.9,386.9 546.8,388.6 548.8,390.2 550.8,391.8 552.8,393.4 554.9,394.9 557.1,396.4 559.3,397.9 561.6,399.4 563.8,400.8 566.1,402.2 568.4,403.5 570.8,404.7 573.1,406.0 575.4,407.1 577.8,408.3 580.3,409.3 582.7,410.3 585.2,411.3 587.7,412.2 590.2,413.0 592.6,413.8 595.1,414.6 597.5,415.3 599.8,416.0 602.1,416.7 604.3,417.3 606.5,417.9 608.8,418.4 610.9,418.9 613.1,419.4 615.2,419.8 617.3,420.2 619.4,420.6 621.4,420.9 623.4,421.2 625.3,421.5 627.3,421.8 629.2,422.1 631.2,422.3 633.3,422.4 635.4,422.6 637.5,422.7 639.5,422.8 641.5,422.9 643.4,422.9 645.1,423.0 646.7,423.0 648.1,423.0 649.2,423.1 650.1,423.1 650.7,408.3 649.6,408.3 648.4,408.3 646.9,408.2 645.4,408.2 643.7,408.2 641.9,408.2 640.0,408.1 638.1,408.1 636.2,408.0 634.4,407.9 632.6,407.7 630.8,407.5 629.0,407.4 627.2,407.2 625.3,407.0 623.4,406.7 621.6,406.5 619.6,406.2 617.7,405.9 615.8,405.6 613.8,405.2 611.8,404.8 609.8,404.4 607.7,403.9 605.5,403.4 603.3,402.9 601.0,402.3 598.7,401.8 596.4,401.1 594.1,400.5 591.7,399.8 589.4,399.1 587.2,398.4 584.9,397.6 582.7,396.7 580.6,395.9 578.4,394.9 576.2,393.9 574.0,392.9 571.8,391.8 569.6,390.7 567.4,389.5 565.3,388.3 563.2,387.0 561.1,385.8 559.1,384.5 557.1,383.1 555.2,381.8 553.4,380.4 551.6,379.0 549.9,377.6 548.1,376.1 546.5,374.6 544.8,373.0 543.2,371.4 541.6,369.8 540.0,368.2 538.5,366.5 537.0,364.9 535.5,363.2 534.1,361.5 532.7,359.8 531.4,358.0 530.0,356.2 528.8,354.4 527.5,352.6 526.3,350.7 525.0,348.8 523.8,346.9 522.7,345.0 521.5,343.1 520.3,341.2 519.2,339.1 518.0,337.0 516.8,334.7 515.6,332.3 514.4,329.9 513.2,327.6 512.1,325.3 511.1,323.1 510.1,321.2 509.3,319.4 508.5,317.8 507.9,316.6" fill="#0b5c9a" opacity="0.55" />
<polygon points="528.8,369.1 529.6,370.1 530.7,371.4 532.0,372.9 533.4,374.6 535.1,376.4 536.8,378.4 538.7,380.4 540.6,382.5 542.6,384.5 544.6,386.5 546.7,388.4 548.7,390.2 550.8,391.8 552.8,393.4 554.9,394.9 557.1,396.4 559.3,397.9 561.6,399.4 563.8,400.8 566.1,402.2 568.4,403.5 570.8,404.7 573.1,406.0 575.4,407.1 577.8,408.3 580.3,409.3 582.7,410.3 585.2,411.3 587.7,412.2 590.2,413.0 592.6,413.8 595.1,414.6 597.5,415.3 599.8,416.0 602.1,416.7 604.3,417.3 606.5,417.9 608.8,418.4 610.9,418.9 613.1,419.4 615.2,419.8 617.3,420.2 619.4,420.6 621.4,420.9 623.4,421.2 625.3,421.5 627.3,421.8 629.2,422.1 631.2,422.3 633.3,422.4 635.4,422.6 637.5,422.7 639.5,422.8 641.5,422.9 643.4,422.9 645.1,423.0 646.7,423.0 648.1,423.0 649.2,423.1 650.1,423.1 650.7,408.3 649.6,408.3 648.4,408.3 646.9,408.2 645.4,408.2 643.7,408.2 641.9,408.2 640.0,408.1 638.1,408.1 636.2,408.0 634.4,407.9 632.6,407.7 630.8,407.5 629.0,407.4 627.2,407.2 625.3,407.0 623.4,406.7 621.6,406.5 619.6,406.2 617.7,405.9 615.8,405.6 613.8,405.2 611.8,404.8 609.8,404.4 607.7,403.9 605.5,403.4 603.3,402.9 601.0,402.3 598.7,401.8 596.4,401.1 594.1,400.5 591.7,399.8 589.4,399.1 587.2,398.4 584.9,397.6 582.7,396.7 580.6,395.9 578.4,394.9 576.2,393.9 574.0,392.9 571.8,391.8 569.6,390.7 567.4,389.5 565.3,388.3 563.2,387.0 561.1,385.8 559.1,384.5 557.1,383.1 555.3,381.8 553.4,380.4 551.6,378.9 549.6,377.2 547.7,375.4 545.8,373.5 543.9,371.7 542.2,369.9 540.5,368.1 538.9,366.5 537.5,365.1 536.3,363.8 535.2,362.9" fill="#0b5c9a" opacity="0.9" />
<g clip-path="url(#ribclip)">
<polygon points="493.0,292.9 493.4,294.2 493.9,295.7 494.6,297.6 495.3,299.7 496.0,302.0 496.9,304.4 497.7,306.9 498.6,309.4 499.6,312.0 500.5,314.5 501.4,316.9 502.3,319.1 503.2,321.3 504.1,323.4 505.0,325.6 506.0,327.7 506.9,329.9 507.9,332.0 508.9,334.1 509.9,336.2 511.0,338.3 512.1,340.4 513.1,342.5 514.3,344.5 515.4,346.6 516.5,348.6 517.7,350.6 518.8,352.6 520.0,354.6 521.2,356.6 522.5,358.5 523.8,360.5 525.1,362.5 526.5,364.4 527.9,366.3 529.3,368.2 530.8,370.0 532.3,371.8 533.9,373.6 535.5,375.4 537.1,377.2 538.8,379.0 540.5,380.7 542.2,382.4 544.0,384.1 545.9,385.8 547.8,387.4 549.7,389.0 551.7,390.5 553.8,392.0 555.9,393.5 558.1,395.0 560.3,396.4 562.5,397.8 564.8,399.2 567.1,400.5 569.4,401.7 571.7,403.0 574.0,404.1 576.3,405.2 578.7,406.3 581.1,407.3 583.5,408.3 586.0,409.2 588.4,410.0 590.9,410.8 593.3,411.6 595.7,412.3 598.1,413.0 600.4,413.6 602.7,414.3 604.9,414.8 607.1,415.4 609.3,415.9 611.5,416.4 613.6,416.8 615.7,417.2 617.7,417.6 619.8,418.0 621.8,418.3 623.7,418.6 625.7,418.8 627.6,419.1 629.5,419.3 631.5,419.5 633.5,419.7 635.6,419.8 637.6,419.9 639.6,420.0 641.6,420.1 643.4,420.1 645.2,420.2 646.7,420.2 648.1,420.2 649.3,420.2 650.2,420.3 650.6,411.1 649.6,411.1 648.3,411.1 646.9,411.0 645.3,411.0 643.6,411.0 641.8,411.0 639.9,410.9 638.0,410.8 636.1,410.7 634.2,410.6 632.3,410.5 630.5,410.3 628.7,410.1 626.8,409.9 625.0,409.6 623.1,409.4 621.1,409.1 619.2,408.8 617.3,408.5 615.3,408.1 613.3,407.7 611.2,407.3 609.2,406.9 607.1,406.4 604.9,405.8 602.7,405.3 600.4,404.7 598.1,404.0 595.7,403.4 593.4,402.7 591.0,402.0 588.7,401.2 586.4,400.4 584.1,399.6 581.9,398.7 579.7,397.8 577.5,396.8 575.3,395.7 573.1,394.6 570.9,393.5 568.7,392.3 566.5,391.1 564.4,389.8 562.2,388.5 560.2,387.2 558.1,385.8 556.2,384.4 554.3,383.0 552.4,381.6 550.7,380.2 548.9,378.7 547.2,377.1 545.5,375.6 543.9,374.0 542.3,372.3 540.7,370.7 539.1,369.0 537.6,367.3 536.1,365.6 534.7,363.8 533.2,362.1 531.9,360.4 530.6,358.6 529.3,356.8 528.0,354.9 526.8,353.0 525.6,351.2 524.4,349.3 523.2,347.3 522.0,345.4 520.9,343.4 519.7,341.5 518.6,339.5 517.5,337.5 516.5,335.5 515.4,333.5 514.4,331.4 513.4,329.4 512.4,327.3 511.4,325.2 510.5,323.2 509.5,321.1 508.6,319.0 507.7,316.9 506.8,314.7 505.8,312.4 504.9,310.0 504.0,307.5 503.0,305.0 502.1,302.5 501.3,300.1 500.5,297.9 499.7,295.8 499.1,293.9 498.5,292.4 498.0,291.1" fill="#1a84ce" opacity="1" filter="url(#b1)"/>
</g>
<polygon points="473.4,158.4 463.8,183.8 485.4,182.8" fill="#1589d6" opacity="1" />
<polygon points="447.8,350.9 562.1,283.6 573.1,283.6 585.6,304.8 475.5,366.5 458.0,376.0" fill="#000" opacity="1" />
<line x1="455.1" y1="333.3" x2="461.5" y2="342.8" stroke="#3a3000" stroke-width="1.1" opacity="0.9" />
<line x1="466.8" y1="326.6" x2="472.9" y2="336.1" stroke="#3a3000" stroke-width="1.1" opacity="0.9" />
<line x1="501.9" y1="306.5" x2="507.2" y2="315.9" stroke="#3a3000" stroke-width="1.1" opacity="0.9" />
<line x1="534.7" y1="287.6" x2="539.2" y2="297.1" stroke="#3a3000" stroke-width="1.1" opacity="0.9" />
<line x1="400.8" y1="361.5" x2="575.6" y2="262.1" stroke="#e2e2e2" stroke-width="0.8" opacity="0.95" />
<line x1="399.8" y1="359.6" x2="573.0" y2="260.6" stroke="#e2e2e2" stroke-width="0.6" opacity="0.7" />
<line x1="404.0" y1="366.5" x2="440.0" y2="346.0" stroke="#e2e2e2" stroke-width="0.7" opacity="0.8" />
<line x1="448.6" y1="351.8" x2="563.0" y2="284.6" stroke="#e2e2e2" stroke-width="0.7" opacity="0.9" />
<line x1="449.6" y1="353.4" x2="564.0" y2="286.2" stroke="#e2e2e2" stroke-width="0.6" opacity="0.7" />
<line x1="452.0" y1="368.4" x2="585.0" y2="293.6" stroke="#e2e2e2" stroke-width="0.7" opacity="0.8" />
<line x1="456.0" y1="374.4" x2="590.0" y2="299.4" stroke="#e2e2e2" stroke-width="0.7" opacity="0.75" />
<line x1="410.5" y1="372.5" x2="447.0" y2="352.4" stroke="#e2e2e2" stroke-width="0.8" opacity="0.85" />
<line x1="413.0" y1="375.5" x2="450.0" y2="355.4" stroke="#e2e2e2" stroke-width="0.6" opacity="0.7" />
<line x1="420.0" y1="396.0" x2="476.0" y2="366.0" stroke="#e2e2e2" stroke-width="0.7" opacity="0.7" />
<line x1="420.4" y1="421.0" x2="476.1" y2="392.0" stroke="#e2e2e2" stroke-width="0.7" opacity="0.6" />
<line x1="440.0" y1="420.0" x2="476.0" y2="402.0" stroke="#e2e2e2" stroke-width="0.6" opacity="0.6" />
<line x1="430.0" y1="380.5" x2="470.0" y2="359.0" stroke="#e2e2e2" stroke-width="0.6" opacity="0.6" />
<line x1="444.0" y1="390.0" x2="476.0" y2="372.0" stroke="#e2e2e2" stroke-width="0.5" opacity="0.6" />
<line x1="446.0" y1="357.6" x2="583.0" y2="283.0" stroke="#bdbdbd" stroke-width="1.3" opacity="0.95" stroke-dasharray="3.4 2.4"/>
<line x1="564.2" y1="268.5" x2="585.6" y2="304.8" stroke="#e2e2e2" stroke-width="0.8" opacity="0.9" />
<line x1="560.0" y1="272.0" x2="579.0" y2="306.0" stroke="#e2e2e2" stroke-width="0.6" opacity="0.7" />
<line x1="440.5" y1="345.5" x2="458.0" y2="375.0" stroke="#e2e2e2" stroke-width="0.7" opacity="0.7" />
<line x1="446.0" y1="352.0" x2="468.0" y2="392.0" stroke="#e2e2e2" stroke-width="0.6" opacity="0.6" />
<line x1="430.0" y1="352.0" x2="446.0" y2="380.0" stroke="#e2e2e2" stroke-width="0.6" opacity="0.6" />
<line x1="420.2" y1="393.4" x2="420.4" y2="421.0" stroke="#e2e2e2" stroke-width="0.7" opacity="0.8" />
<line x1="433.0" y1="372.0" x2="433.0" y2="415.0" stroke="#e2e2e2" stroke-width="0.6" opacity="0.6" />
<line x1="443.0" y1="380.0" x2="443.0" y2="420.0" stroke="#e2e2e2" stroke-width="0.6" opacity="0.6" />
<line x1="452.0" y1="372.0" x2="452.0" y2="405.0" stroke="#e2e2e2" stroke-width="0.5" opacity="0.5" />
<line x1="502.8" y1="318.5" x2="518.4" y2="345.6" stroke="#e2e2e2" stroke-width="0.6" opacity="0.6" />
<line x1="538.4" y1="298.0" x2="556.9" y2="322.5" stroke="#e2e2e2" stroke-width="0.9" opacity="0.75" />
<line x1="548.0" y1="296.0" x2="553.0" y2="308.0" stroke="#e2e2e2" stroke-width="0.7" opacity="0.7" />
<line x1="470.0" y1="337.6" x2="484.2" y2="362.0" stroke="#e2e2e2" stroke-width="0.6" opacity="0.6" />
<line x1="555.6" y1="319.0" x2="555.6" y2="360.4" stroke="#cfcfcf" stroke-width="0.9" opacity="0.9" />
<line x1="557.4" y1="318.0" x2="557.4" y2="359.6" stroke="#9a9a9a" stroke-width="0.6" opacity="0.8" />
<line x1="575.6" y1="262.1" x2="597.4" y2="299.6" stroke="#f0e040" stroke-width="1.2" opacity="1" />
<line x1="290.0" y1="525.8" x2="533.0" y2="387.0" stroke="#d07a12" stroke-width="1.3" opacity="1" />
<line x1="476.0" y1="418.5" x2="533.0" y2="387.5" stroke="#e08a18" stroke-width="1.6" opacity="1" />
<line x1="426.0" y1="378.0" x2="452.0" y2="322.0" stroke="#8c8c8c" stroke-width="0.5" opacity="0.5" />
<line x1="590.0" y1="300.0" x2="612.0" y2="345.0" stroke="#8c8c8c" stroke-width="0.5" opacity="0.5" />
<line x1="560.0" y1="250.0" x2="600.0" y2="330.0" stroke="#6a6a6a" stroke-width="0.4" opacity="0.5" />
<line x1="590.0" y1="341.6" x2="705.5" y2="341.6" stroke="#8c8c8c" stroke-width="0.6" opacity="0.7" />
<line x1="596.0" y1="343.0" x2="625.0" y2="383.0" stroke="#8c8c8c" stroke-width="0.5" opacity="0.6" />
<line x1="574.2" y1="85.8" x2="626.0" y2="85.8" stroke="#f4f4f4" stroke-width="1.7" opacity="1" />
<line x1="574.2" y1="94.2" x2="626.9" y2="94.2" stroke="#f4f4f4" stroke-width="1.7" opacity="1" />
<path d="M625.5 86.2 L636.9 80 L637.6 80 L637.6 159.7" fill="none" stroke="#f4f4f4" stroke-width="1.8" opacity="1" />
<line x1="596.6" y1="94.2" x2="596.6" y2="144.0" stroke="#f4f4f4" stroke-width="2.0" opacity="1" />
<line x1="594.6" y1="94.2" x2="594.6" y2="144.0" stroke="#cfcfcf" stroke-width="0.6" opacity="1" />
<rect x="601.3" y="95.0" width="31.3" height="50.5" fill="none" stroke="#d8d8d8" stroke-width="0.8" opacity="1" rx="0" />
<line x1="602.4" y1="96.8" x2="631.0" y2="96.8" stroke="#f4f4f4" stroke-width="2.0" opacity="1" />
<line x1="602.4" y1="141.8" x2="631.0" y2="141.8" stroke="#f4f4f4" stroke-width="2.0" opacity="1" />
<line x1="615.6" y1="96.6" x2="615.6" y2="141.6" stroke="#f4f4f4" stroke-width="1.8" opacity="1" />
<line x1="617.4" y1="98.0" x2="617.4" y2="140.0" stroke="#bdbdbd" stroke-width="0.8" opacity="0.9" stroke-dasharray="2 1.4"/>
<line x1="606.0" y1="98.4" x2="606.0" y2="140.0" stroke="#9a9a9a" stroke-width="0.5" opacity="1" />
<line x1="628.0" y1="98.4" x2="628.0" y2="140.0" stroke="#9a9a9a" stroke-width="0.5" opacity="1" />
<line x1="570.3" y1="145.5" x2="635.4" y2="145.5" stroke="#f4f4f4" stroke-width="1.5" opacity="1" />
<line x1="578.0" y1="137.6" x2="597.0" y2="137.6" stroke="#9a9a9a" stroke-width="0.5" opacity="1" />
<line x1="578.0" y1="140.0" x2="597.0" y2="140.0" stroke="#9a9a9a" stroke-width="0.5" opacity="1" />
<rect x="571.4" y="148.4" width="18.6" height="8.4" fill="url(#hatch2)" stroke="#cfcfcf" stroke-width="0.7" opacity="1" rx="0" />
<rect x="592.7" y="146.0" width="20.0" height="12.4" fill="none" stroke="#f4f4f4" stroke-width="1.5" opacity="1" rx="0" />
<ellipse cx="599.5" cy="152.2" rx="3.2" ry="2.2" fill="none" stroke="#cfcfcf" stroke-width="0.7"/><circle cx="608" cy="152.4" r="1.6" fill="none" stroke="#cfcfcf" stroke-width="0.7"/>
<rect x="614.4" y="147.0" width="18.0" height="12.6" fill="none" stroke="#f4f4f4" stroke-width="1.9" opacity="1" rx="0" />
<rect x="618.0" y="150.0" width="11.0" height="3.4" fill="none" stroke="#e0e0e0" stroke-width="0.8" opacity="1" rx="0" />
<rect x="612.8" y="159.6" width="27.4" height="2.6" fill="#f4f4f4" opacity="1" rx="0" />
<line x1="633.4" y1="94.0" x2="633.4" y2="145.0" stroke="#9a9a9a" stroke-width="0.6" opacity="1" />
<line x1="568.0" y1="162.5" x2="593.0" y2="162.5" stroke="#8c8c8c" stroke-width="0.5" opacity="1" />
<line x1="568.0" y1="165.0" x2="593.0" y2="165.0" stroke="#8c8c8c" stroke-width="0.5" opacity="1" />
<line x1="593.0" y1="158.4" x2="593.0" y2="166.0" stroke="#8c8c8c" stroke-width="0.5" opacity="1" />
<line x1="615.6" y1="162.6" x2="615.6" y2="332.0" stroke="#d0d0d0" stroke-width="0.55" opacity="0.55" />
<line x1="617.7" y1="162.6" x2="617.7" y2="332.0" stroke="#d0d0d0" stroke-width="0.55" opacity="0.4" />
<line x1="620.1" y1="162.6" x2="620.1" y2="332.0" stroke="#d0d0d0" stroke-width="0.55" opacity="0.55" />
<line x1="622.5" y1="162.6" x2="622.5" y2="332.0" stroke="#d0d0d0" stroke-width="0.55" opacity="0.4" />
<line x1="625.5" y1="162.6" x2="625.5" y2="332.0" stroke="#d0d0d0" stroke-width="0.55" opacity="0.5" />
<line x1="628.5" y1="162.6" x2="628.5" y2="332.0" stroke="#d0d0d0" stroke-width="0.55" opacity="0.4" />
<line x1="631.5" y1="162.6" x2="631.5" y2="332.0" stroke="#d0d0d0" stroke-width="0.55" opacity="0.5" />
<rect x="616.6" y="331.0" width="11.4" height="4.8" fill="none" stroke="#f4f4f4" stroke-width="1.5" opacity="1" rx="0" />
<line x1="618.4" y1="332.8" x2="625.4" y2="332.8" stroke="#d8d8d8" stroke-width="1.0" opacity="1" />
<path d="M610.6 336.6 H638.4 Q640.6 337 640.4 339.6 V345.4" fill="none" stroke="#f4f4f4" stroke-width="2.1" opacity="1" />
<line x1="610.6" y1="342.0" x2="637.6" y2="342.0" stroke="#f4f4f4" stroke-width="2.0" opacity="1" />
<line x1="612.7" y1="344.4" x2="637.4" y2="344.4" stroke="#c8c8c8" stroke-width="1.0" opacity="1" />
<path d="M627.2 343.4 V365.4 M627.2 346.8 H640.8" fill="none" stroke="#f4f4f4" stroke-width="2.1" opacity="1" />
<line x1="643.2" y1="336.4" x2="643.2" y2="347.6" stroke="#f4f4f4" stroke-width="1.4" opacity="1" />
<path d="M633.6 346.8 V358.6 H639.8 V366.4 H612.8 V356" fill="none" stroke="#f4f4f4" stroke-width="2.1" opacity="1" />
<line x1="611.4" y1="356.0" x2="621.4" y2="356.0" stroke="#f4f4f4" stroke-width="1.6" opacity="1" />
<rect x="614.0" y="357.0" width="12.0" height="8.4" fill="url(#hatch3)" opacity="1" rx="0" />
<path d="M625.6 345.6 L618.4 356.6 M623.4 345.6 L616.6 356" fill="none" stroke="#e0e0e0" stroke-width="0.9" opacity="1" />
<path d="M604.2 352.4 q1.6 -3.4 6 -3.6 q4 -1 7 -2.4 M604.6 352.6 q3 -1.6 6.6 -0.6" fill="none" stroke="#bdbdbd" stroke-width="0.6" opacity="1" />
<line x1="646.8" y1="90.0" x2="646.8" y2="342.0" stroke="#dcc800" stroke-width="0.9" opacity="1" />
<line x1="648.4" y1="100.0" x2="648.4" y2="342.0" stroke="#b8a400" stroke-width="0.7" opacity="1" />
<rect x="643.4" y="90.8" width="11.2" height="10.4" fill="none" stroke="#cfc000" stroke-width="1.0" opacity="1" rx="0" />
<rect x="645.6" y="93.0" width="7.0" height="6.4" fill="none" stroke="#a89c00" stroke-width="0.7" opacity="1" rx="0" />
<line x1="642.0" y1="91.6" x2="656.4" y2="90.4" stroke="#b8a800" stroke-width="0.6" opacity="1" />
<line x1="654.2" y1="89.0" x2="654.8" y2="103.0" stroke="#b8a800" stroke-width="0.6" opacity="1" />
<rect x="644.2" y="139.6" width="8.6" height="10.8" fill="none" stroke="#cfc000" stroke-width="1.0" opacity="1" rx="0" />
<line x1="643.0" y1="150.6" x2="654.6" y2="149.8" stroke="#a89c00" stroke-width="0.6" opacity="1" />
<rect x="645.6" y="194.0" width="7.0" height="8.4" fill="none" stroke="#e8d400" stroke-width="1.3" opacity="1" rx="0" />
<line x1="624.0" y1="106.4" x2="647.0" y2="106.4" stroke="#e8d400" stroke-width="1.1" opacity="1" />
<path d="M621.8 106.4 L626 104.8 L626 108 Z" fill="#e8d400" opacity="1" />
<line x1="638.6" y1="97.4" x2="647.0" y2="104.6" stroke="#cfc000" stroke-width="0.8" opacity="1" />
<line x1="640.0" y1="108.0" x2="647.0" y2="120.0" stroke="#b8a800" stroke-width="0.7" opacity="1" />
<line x1="647.0" y1="107.6" x2="657.6" y2="107.6" stroke="#b0a200" stroke-width="0.7" opacity="1" />
<line x1="647.0" y1="115.6" x2="657.6" y2="115.6" stroke="#b0a200" stroke-width="0.7" opacity="1" />
<line x1="647.0" y1="123.6" x2="657.6" y2="123.6" stroke="#b0a200" stroke-width="0.7" opacity="1" />
<line x1="647.0" y1="133.4" x2="657.6" y2="133.4" stroke="#b0a200" stroke-width="0.7" opacity="1" />
<line x1="649.0" y1="156.0" x2="656.2" y2="156.0" stroke="#f8d000" stroke-width="1.9" opacity="1" />
<line x1="649.0" y1="163.5" x2="656.2" y2="163.5" stroke="#f8d000" stroke-width="1.9" opacity="1" />
<line x1="649.0" y1="171.0" x2="656.2" y2="171.0" stroke="#f8d000" stroke-width="1.9" opacity="1" />
<line x1="649.0" y1="183.1" x2="656.2" y2="183.1" stroke="#f8d000" stroke-width="1.9" opacity="1" />
<line x1="649.0" y1="190.0" x2="656.2" y2="190.0" stroke="#f8d000" stroke-width="1.9" opacity="1" />
<line x1="649.0" y1="211.7" x2="656.2" y2="211.7" stroke="#f8d000" stroke-width="1.9" opacity="1" />
<line x1="649.0" y1="222.2" x2="656.2" y2="222.2" stroke="#f8d000" stroke-width="1.9" opacity="1" />
<line x1="649.0" y1="231.9" x2="656.2" y2="231.9" stroke="#f8d000" stroke-width="1.9" opacity="1" />
<line x1="649.0" y1="240.9" x2="656.2" y2="240.9" stroke="#f8d000" stroke-width="1.9" opacity="1" />
<line x1="649.0" y1="249.3" x2="656.2" y2="249.3" stroke="#f8d000" stroke-width="1.9" opacity="1" />
<line x1="649.0" y1="259.9" x2="656.2" y2="259.9" stroke="#f8d000" stroke-width="1.9" opacity="1" />
<line x1="649.0" y1="269.8" x2="656.2" y2="269.8" stroke="#f8d000" stroke-width="1.9" opacity="1" />
<line x1="649.0" y1="280.0" x2="656.2" y2="280.0" stroke="#f8d000" stroke-width="1.9" opacity="1" />
<line x1="649.0" y1="290.6" x2="656.2" y2="290.6" stroke="#f8d000" stroke-width="1.9" opacity="1" />
<line x1="649.0" y1="301.2" x2="656.2" y2="301.2" stroke="#f8d000" stroke-width="1.9" opacity="1" />
<line x1="649.0" y1="311.9" x2="656.2" y2="311.9" stroke="#f8d000" stroke-width="1.9" opacity="1" />
<line x1="649.0" y1="321.4" x2="656.2" y2="321.4" stroke="#f8d000" stroke-width="1.9" opacity="1" />
<line x1="649.0" y1="331.4" x2="656.2" y2="331.4" stroke="#f8d000" stroke-width="1.9" opacity="1" />
<rect x="644.6" y="342.8" width="7.8" height="4.2" fill="none" stroke="#f2c800" stroke-width="1.7" opacity="1" rx="0" />
<line x1="635.4" y1="351.7" x2="644.4" y2="351.7" stroke="#f2c800" stroke-width="1.6" opacity="1" />
<path d="M644 349.8 L649 351.4 L646.4 354.4 Z" fill="#f2c800" opacity="1" />
<line x1="650.5" y1="322.0" x2="650.5" y2="342.0" stroke="#b8a400" stroke-width="0.6" opacity="0.8" />
<line x1="653.4" y1="322.0" x2="653.4" y2="342.0" stroke="#a89400" stroke-width="0.5" opacity="0.7" />
<path d="M618.4 378.4 L617.5 387.3 M618.3 379.9 L621.8 378.8 M617.8 382.8 L620.8 382.3 M617.5 386.3 L621.2 385.7 M622.6 387.0 L623.1 377.6 L625.6 385.7 L626.3 376.3 M627.6 377.0 L629.4 385.5 L632.0 376.4 M633.4 378.3 L633.1 387.0 M632.9 379.8 L637.1 378.9 M632.8 382.7 L636.1 382.1 M632.7 386.6 L636.9 385.4 M638.9 376.1 L637.7 385.2 L641.8 384.7 M645.3 377.8 L643.8 379.5 L643.2 382.6 L643.9 385.9 L645.3 384.4 L646.4 380.7 L646.1 378.0 L645.0 377.8 M648.7 376.3 L647.8 386.8 M647.6 378.0 L650.4 377.2 L651.3 379.0 L650.4 381.2 L647.7 382.2 M653.4 376.9 L652.4 386.7 M652.6 378.7 L656.6 377.8 M652.6 382.3 L655.4 381.4 M652.0 385.9 L656.3 384.9 M660.9 377.6 L659.7 387.2 M659.7 378.8 L662.5 378.4 L663.6 381.4 L662.8 385.1 L658.6 386.6 M665.3 377.6 L665.1 387.3 M665.2 379.0 L668.6 378.0 M665.0 382.4 L667.7 381.6 M664.9 386.1 L668.8 385.4 M669.1 380.0 L674.2 379.0 M671.6 378.2 L670.6 386.9 M674.1 386.5 L675.8 378.5 L677.6 386.5 M674.1 383.2 L677.7 382.6 M679.5 378.3 L679.0 387.0 M681.6 377.1 L681.4 385.7 L684.9 384.9" fill="none" stroke="#9c9c9c" stroke-width="0.7" stroke-linecap="round" stroke-linejoin="round" opacity="1.0"/>
<polygon points="554.7,248.8 555.2,247.9 555.9,246.8 556.6,245.6 557.4,244.3 558.2,242.8 559.2,241.2 560.1,239.7 561.1,238.1 562.1,236.5 563.1,235.1 564.1,233.7 565.1,232.4 566.1,231.2 567.1,230.0 568.2,228.8 569.3,227.5 570.4,226.4 571.6,225.2 572.7,224.1 573.9,223.0 575.1,221.9 576.3,220.9 577.5,219.9 578.8,219.0 580.1,218.1 581.4,217.2 582.7,216.3 584.1,215.5 585.5,214.7 586.9,214.0 588.3,213.2 589.8,212.6 591.2,211.9 592.7,211.3 594.3,210.7 595.8,210.2 597.3,209.7 598.9,209.2 600.5,208.8 602.1,208.5 603.8,208.1 605.5,207.8 607.2,207.6 608.9,207.3 610.7,207.1 612.5,206.9 614.3,206.8 616.1,206.6 618.0,206.6 619.8,206.5 621.8,206.5 623.7,206.5 625.7,206.5 627.7,206.5 629.7,206.6 631.7,206.7 633.7,206.9 635.8,207.1 637.8,207.3 639.7,207.5 641.7,207.7 643.7,208.0 645.7,208.4 647.7,208.7 649.7,209.1 651.7,209.6 653.7,210.0 655.7,210.5 657.7,211.0 659.7,211.5 661.6,212.0 663.5,212.5 665.4,213.1 667.3,213.7 669.2,214.3 671.0,214.9 672.9,215.6 674.7,216.3 676.5,217.0 678.4,217.6 680.2,218.4 681.9,219.1 683.7,219.8 685.5,220.4 687.3,221.2 689.2,221.9 691.1,222.8 693.0,223.6 695.0,224.4 696.9,225.3 698.7,226.1 700.4,226.8 702.0,227.5 703.4,228.1 704.6,228.6 705.5,229.1 706.5,226.9 705.5,226.5 704.3,226.0 702.9,225.3 701.4,224.6 699.7,223.8 697.9,223.0 696.0,222.1 694.1,221.2 692.1,220.4 690.2,219.5 688.3,218.7 686.5,218.0 684.8,217.2 683.0,216.5 681.2,215.7 679.4,215.0 677.6,214.2 675.8,213.5 673.9,212.8 672.1,212.1 670.2,211.4 668.3,210.7 666.4,210.1 664.5,209.5 662.5,208.9 660.6,208.3 658.6,207.7 656.6,207.2 654.5,206.7 652.5,206.2 650.5,205.7 648.4,205.2 646.4,204.8 644.3,204.4 642.3,204.0 640.3,203.7 638.2,203.4 636.2,203.2 634.1,202.9 632.0,202.7 630.0,202.5 627.9,202.4 625.9,202.3 623.8,202.2 621.8,202.1 619.8,202.1 617.8,202.1 615.9,202.2 614.0,202.2 612.1,202.3 610.3,202.4 608.4,202.5 606.6,202.7 604.8,202.9 603.0,203.2 601.2,203.5 599.4,203.8 597.7,204.1 595.9,204.6 594.2,205.0 592.5,205.5 590.8,206.1 589.2,206.7 587.5,207.3 585.9,208.0 584.3,208.7 582.7,209.5 581.2,210.3 579.6,211.1 578.1,212.0 576.7,212.9 575.2,213.8 573.8,214.8 572.3,215.9 571.0,216.9 569.6,218.1 568.3,219.2 566.9,220.4 565.7,221.6 564.4,222.9 563.2,224.1 562.0,225.4 560.8,226.7 559.7,228.0 558.5,229.4 557.4,230.9 556.2,232.5 555.1,234.2 554.1,235.8 553.0,237.5 552.0,239.0 551.1,240.5 550.3,241.9 549.6,243.1 549.0,244.1 548.5,244.8" fill="#1589d6" opacity="1" />
<polygon points="718.8,233.5 703.7,232.1 708.8,222.2" fill="#1589d6" opacity="1" />
<polygon points="728.4,356.5 727.8,356.8 727.1,357.3 726.4,357.8 725.7,358.3 724.9,358.9 724.1,359.4 723.2,360.0 722.2,360.6 721.3,361.1 720.3,361.6 719.3,362.0 718.3,362.3 717.1,362.6 715.8,363.0 714.4,363.3 712.9,363.6 711.4,363.8 709.8,364.1 708.2,364.3 706.5,364.5 704.9,364.6 703.4,364.7 701.9,364.8 700.4,364.8 699.0,364.8 697.7,364.8 696.3,364.7 695.0,364.6 693.6,364.5 692.3,364.3 691.0,364.1 689.7,363.9 688.4,363.6 687.2,363.3 685.9,363.0 684.7,362.6 683.5,362.2 682.3,361.7 681.1,361.2 680.0,360.6 678.8,360.0 677.6,359.4 676.5,358.7 675.3,358.0 674.2,357.3 673.1,356.6 672.0,356.0 670.9,355.3 669.9,354.6 668.9,353.9 667.9,353.2 666.9,352.5 666.0,351.8 665.1,351.1 664.1,350.4 663.2,349.7 662.4,349.0 661.5,348.3 660.7,347.6 659.8,346.9 659.0,346.2 658.3,345.5 657.6,344.8 656.8,344.1 656.1,343.4 655.4,342.7 654.8,342.0 654.1,341.3 653.4,340.6 652.7,339.9 652.1,339.2 651.4,338.5 650.7,337.8 650.0,337.1 649.3,336.3 648.6,335.6 647.9,334.9 647.2,334.2 646.5,333.5 645.8,332.8 645.1,332.1 644.5,331.5 643.8,330.8 643.2,330.2 642.6,329.6 641.9,329.0 641.2,328.4 640.6,327.8 639.9,327.2 639.3,326.6 638.7,326.1 638.1,325.6 637.6,325.2 637.1,324.8 636.7,324.4 636.4,324.2 635.6,325.0 635.9,325.3 636.3,325.7 636.7,326.2 637.2,326.6 637.7,327.2 638.3,327.7 638.9,328.3 639.5,328.9 640.2,329.5 640.8,330.1 641.4,330.8 642.0,331.4 642.6,332.0 643.2,332.7 643.8,333.4 644.5,334.1 645.1,334.8 645.8,335.5 646.5,336.2 647.1,337.0 647.8,337.7 648.5,338.5 649.2,339.2 649.8,339.9 650.5,340.6 651.2,341.4 651.8,342.1 652.5,342.8 653.1,343.5 653.8,344.3 654.5,345.0 655.1,345.7 655.9,346.5 656.6,347.2 657.4,348.0 658.2,348.7 659.0,349.5 659.8,350.2 660.6,351.0 661.5,351.8 662.4,352.6 663.2,353.3 664.2,354.1 665.1,354.9 666.1,355.7 667.1,356.4 668.1,357.2 669.1,357.9 670.1,358.7 671.2,359.4 672.3,360.2 673.4,361.0 674.5,361.8 675.7,362.6 676.9,363.3 678.1,364.0 679.4,364.7 680.7,365.4 682.0,366.0 683.3,366.6 684.6,367.1 686.0,367.5 687.3,367.9 688.7,368.3 690.1,368.7 691.5,369.0 692.9,369.2 694.4,369.4 695.9,369.6 697.3,369.8 698.8,369.9 700.4,370.0 701.9,370.0 703.6,370.0 705.3,370.0 707.0,369.9 708.7,369.8 710.4,369.6 712.1,369.4 713.8,369.2 715.4,369.0 717.0,368.7 718.5,368.4 719.9,368.1 721.3,367.7 722.7,367.1 724.0,366.6 725.2,365.9 726.3,365.3 727.4,364.7 728.4,364.1 729.2,363.5 730.0,363.0 730.7,362.5 731.2,362.2 731.6,361.9" fill="#1589d6" opacity="1" />
<polygon points="630.5,319.2 637.6,322.2 632.8,327.6" fill="#1589d6" opacity="1" />
<text x="652.2" y="422.8" font-size="20.2" fill="#137bc6" stroke="#000" stroke-width="0.5" textLength="91.4" lengthAdjust="spacingAndGlyphs">WIND VER</text>
<line x1="393.0" y1="462.7" x2="621.0" y2="462.7" stroke="#8c8c8c" stroke-width="0.7" opacity="0.8" />
<rect x="392.8" y="464.5" width="228.4" height="3.1" fill="#c8860e" opacity="1" rx="0" />
<rect x="392.8" y="464.5" width="120.0" height="3.1" fill="#d89a14" opacity="0.6" rx="0" />
<line x1="290.0" y1="534.2" x2="392.8" y2="534.2" stroke="#d07a12" stroke-width="1.0" opacity="0.9" />
<rect x="392.8" y="532.5" width="228.2" height="2.7" fill="#cc7808" opacity="1" rx="0" />
<rect x="440.0" y="541.2" width="96.6" height="2.6" fill="#7c6c14" opacity="0.9" rx="0" />
<line x1="536.0" y1="542.6" x2="621.0" y2="542.6" stroke="#6a6a6a" stroke-width="0.6" opacity="1" />
<line x1="393.5" y1="464.5" x2="393.5" y2="484.0" stroke="#d8a800" stroke-width="1.5" opacity="1" />
<line x1="629.3" y1="447.6" x2="629.3" y2="555.0" stroke="#d87808" stroke-width="1.7" opacity="1" />
<line x1="621.8" y1="458.0" x2="621.8" y2="548.0" stroke="#9a9a9a" stroke-width="0.7" opacity="0.8" />
<line x1="624.3" y1="458.0" x2="624.3" y2="550.0" stroke="#8a8a8a" stroke-width="0.6" opacity="0.7" />
<line x1="620.4" y1="460.0" x2="620.4" y2="546.0" stroke="#7c6c14" stroke-width="0.6" opacity="0.8" />
<line x1="603.8" y1="505.5" x2="646.5" y2="505.5" stroke="#6a6a6a" stroke-width="0.5" opacity="0.7" />
<line x1="630.0" y1="516.0" x2="662.0" y2="516.0" stroke="#6a6a6a" stroke-width="0.5" opacity="0.7" />
<path d="M393.8 483.8 h9 a9 7.4 0 0 0 -9 -7.4" fill="none" stroke="#e0b000" stroke-width="1.1" opacity="1" />
<rect x="340.3" y="484.2" width="90.3" height="5.0" fill="#f6f6f6" opacity="1" rx="0" />
<line x1="340.3" y1="486.8" x2="430.6" y2="486.8" stroke="#c8c8c8" stroke-width="0.8" opacity="1" />
<line x1="430.6" y1="485.0" x2="449.5" y2="485.0" stroke="#5a7eb0" stroke-width="0.9" opacity="1" />
<line x1="430.6" y1="488.4" x2="449.5" y2="488.4" stroke="#5a7eb0" stroke-width="0.9" opacity="1" />
<rect x="449.2" y="482.8" width="3.8" height="5.9" fill="#f6f6f6" opacity="1" rx="0" />
<line x1="341.4" y1="489.0" x2="341.4" y2="534.8" stroke="#f6f6f6" stroke-width="1.1" opacity="1" />
<rect x="392.1" y="508.4" width="2.9" height="30.6" fill="#f6f6f6" opacity="1" rx="0" />
<rect x="392.1" y="534.9" width="61.3" height="4.1" fill="#f6f6f6" opacity="1" rx="0" />
<rect x="449.8" y="534.9" width="4.2" height="7.0" fill="#f6f6f6" opacity="1" rx="0" />
<line x1="402.8" y1="515.2" x2="451.2" y2="515.2" stroke="#f6f6f6" stroke-width="2.0" opacity="1" />
<line x1="402.8" y1="507.7" x2="402.8" y2="516.2" stroke="#f6f6f6" stroke-width="1.2" opacity="1" />
<line x1="429.2" y1="516.2" x2="429.2" y2="534.9" stroke="#f6f6f6" stroke-width="1.5" opacity="1" />
<line x1="452.0" y1="506.6" x2="452.0" y2="535.0" stroke="#f6f6f6" stroke-width="2.0" opacity="1" />
<line x1="440.0" y1="515.0" x2="452.0" y2="515.0" stroke="#f6f6f6" stroke-width="1.4" opacity="1" />
<path d="M453.0 486.7 Q455.8 483.9 458.6 486.7 Q461.5 489.5 464.3 486.7 Q467.1 483.9 469.9 486.7 Q472.8 489.5 475.6 486.7 Q478.4 483.9 481.2 486.7 Q484.1 489.5 486.9 486.7 Q489.7 483.9 492.5 486.7 Q495.4 489.5 498.2 486.7 Q501.0 483.9 503.8 486.7 Q506.7 489.5 509.5 486.7 Q512.3 483.9 515.1 486.7 Q518.0 489.5 520.8 486.7 Q523.6 483.9 526.4 486.7 Q529.3 489.5 532.1 486.7 Q534.9 483.9 537.7 486.7 Q540.6 489.5 543.4 486.7 Q546.2 483.9 549.0 486.7 Q551.9 489.5 554.7 486.7 Q557.5 483.9 560.3 486.7 Q563.2 489.5 566.0 486.7 Q568.8 483.9 571.6 486.7 Q574.5 489.5 577.3 486.7 Q580.1 483.9 582.9 486.7 Q585.8 489.5 588.6 486.7 Q591.4 483.9 594.2 486.7 Q597.1 489.5 599.9 486.7" fill="none" stroke="#f0f0f0" stroke-width="0.9" opacity="1" />
<line x1="453.0" y1="483.5" x2="598.8" y2="483.5" stroke="#bdbdbd" stroke-width="0.6" opacity="0.9" />
<line x1="453.0" y1="489.0" x2="598.0" y2="489.0" stroke="#8c8c8c" stroke-width="0.5" opacity="0.8" />
<path d="M454.0 539.4 Q456.8 536.8 459.6 539.4 Q462.5 542.0 465.3 539.4 Q468.1 536.8 470.9 539.4 Q473.8 542.0 476.6 539.4 Q479.4 536.8 482.2 539.4 Q485.1 542.0 487.9 539.4 Q490.7 536.8 493.5 539.4 Q496.4 542.0 499.2 539.4 Q502.0 536.8 504.8 539.4 Q507.7 542.0 510.5 539.4 Q513.3 536.8 516.1 539.4 Q519.0 542.0 521.8 539.4 Q524.6 536.8 527.4 539.4" fill="none" stroke="#e8e8e8" stroke-width="0.9" opacity="1" />
<line x1="454.0" y1="536.8" x2="544.0" y2="536.8" stroke="#9a9a9a" stroke-width="0.5" opacity="0.8" />
<rect x="525.3" y="538.2" width="19.2" height="2.4" fill="#7a7a7a" opacity="1" rx="0" />
<rect x="547.0" y="467.9" width="4.8" height="62.6" fill="#f6f6f6" opacity="1" rx="0" />
<rect x="544.6" y="536.0" width="5.2" height="8.6" fill="#f6f6f6" opacity="1" rx="0" />
<line x1="585.0" y1="495.7" x2="585.0" y2="516.6" stroke="#f6f6f6" stroke-width="2.0" opacity="1" />
<line x1="584.0" y1="515.9" x2="618.4" y2="515.9" stroke="#f6f6f6" stroke-width="2.1" opacity="1" />
<line x1="600.1" y1="483.5" x2="600.1" y2="507.9" stroke="#f6f6f6" stroke-width="2.5" opacity="1" />
<line x1="598.8" y1="484.6" x2="618.8" y2="484.6" stroke="#f6f6f6" stroke-width="2.1" opacity="1" />
<rect x="599.4" y="488.6" width="1.6" height="2.2" fill="#000" opacity="1" rx="0" />
<line x1="551.0" y1="544.4" x2="622.0" y2="544.4" stroke="#8a8a8a" stroke-width="0.7" opacity="1" />
<line x1="553.0" y1="539.6" x2="622.0" y2="539.6" stroke="#6a6a6a" stroke-width="0.5" opacity="1" />
<path d="M581 506 v14" fill="none" stroke="#5a0c14" stroke-width="2.2" opacity="0.6" />
<line x1="470.0" y1="440.0" x2="470.0" y2="560.0" stroke="#cfcfcf" stroke-width="0.6" opacity="0.35" />
<line x1="497.0" y1="470.0" x2="497.0" y2="545.0" stroke="#cfcfcf" stroke-width="0.6" opacity="0.35" />
<line x1="572.0" y1="462.0" x2="572.0" y2="548.0" stroke="#cfcfcf" stroke-width="0.6" opacity="0.35" />
<line x1="602.6" y1="452.0" x2="602.6" y2="552.0" stroke="#cfcfcf" stroke-width="0.6" opacity="0.35" />
<line x1="455.0" y1="508.0" x2="640.0" y2="508.0" stroke="#cfcfcf" stroke-width="0.6" opacity="0.22" />
<line x1="434.0" y1="460.0" x2="434.0" y2="548.0" stroke="#cfcfcf" stroke-width="0.6" opacity="0.3" />
<line x1="452.6" y1="470.0" x2="452.6" y2="506.0" stroke="#cfcfcf" stroke-width="0.6" opacity="0.4" />
<line x1="440.0" y1="470.0" x2="520.0" y2="540.0" stroke="#bdbdbd" stroke-width="0.5" opacity="0.3" />
<line x1="500.0" y1="470.0" x2="580.0" y2="545.0" stroke="#bdbdbd" stroke-width="0.5" opacity="0.3" />
<line x1="400.0" y1="470.0" x2="450.0" y2="535.0" stroke="#bdbdbd" stroke-width="0.5" opacity="0.3" />
<line x1="530.0" y1="540.0" x2="600.0" y2="470.0" stroke="#bdbdbd" stroke-width="0.5" opacity="0.25" />
<line x1="460.0" y1="545.0" x2="540.0" y2="468.0" stroke="#bdbdbd" stroke-width="0.5" opacity="0.25" />
<line x1="395.0" y1="520.0" x2="470.0" y2="462.0" stroke="#bdbdbd" stroke-width="0.5" opacity="0.3" />
<line x1="456.0" y1="488.0" x2="522.0" y2="552.0" stroke="#bdbdbd" stroke-width="0.5" opacity="0.35" />
<path d="M514.8 517.6 V446.6 H531 M526 440.4 L534.4 447 L527.4 455.4" fill="none" stroke="#dadada" stroke-width="1.2" opacity="1" />
<text x="513.6" y="443.6" font-size="6.4" fill="#e8e8e8">A</text>
<path d="M453 544 a27 27 0 0 0 27 25 M507 544 a27 27 0 0 1 -27 25 M480 544 v25 M508 544 a23 23 0 0 0 23 21 M531.4 544 v22" fill="none" stroke="#6a5c14" stroke-width="0.7" opacity="0.9" />
<path d="M349.1 558.9 L346.1 558.2 L343.6 559.6 L344.3 561.2 L347.6 562.3 L347.4 563.9 L345.5 564.7 L342.1 564.4 M351.5 557.4 L350.4 566.4 M350.5 558.6 L357.7 557.4 M350.0 561.6 L355.6 561.1 M349.5 565.1 L357.4 564.4 M365.6 557.9 L362.6 557.0 L359.4 559.9 L359.2 562.8 L361.2 565.2 L365.1 563.6 M370.2 558.5 L367.4 560.0 L366.7 562.7 L368.5 564.9 L371.4 563.9 L372.8 561.1 L371.5 559.0 L369.7 559.1 M374.4 566.9 L375.3 559.0 L379.6 565.7 L380.9 557.9 M383.1 558.0 L382.6 566.5 M381.7 559.3 L385.9 558.4 L388.1 560.9 L387.0 564.3 L381.1 565.6 M395.5 558.5 L394.4 566.7 M394.3 559.4 L401.9 558.8 M394.2 562.8 L400.2 561.8 M403.7 557.7 L402.7 565.4 L409.4 564.8 M414.6 557.6 L411.9 559.3 L410.7 562.0 L412.5 564.6 L415.2 563.7 L416.8 560.5 L415.9 557.6 L413.8 558.0 M422.9 556.5 L419.8 558.4 L418.9 562.2 L420.3 565.2 L423.3 563.8 L425.0 559.8 L423.8 557.2 L421.5 556.8 M427.6 556.9 L426.5 565.8 M426.3 558.6 L431.2 557.9 L432.9 559.6 L430.7 561.2 L426.3 562.3 M428.5 561.2 L432.6 565.1" fill="none" stroke="#dcdcdc" stroke-width="0.8" stroke-linecap="round" stroke-linejoin="round" opacity="1.0"/>
<line x1="430.5" y1="540.0" x2="430.5" y2="557.0" stroke="#9a9a9a" stroke-width="0.5" opacity="0.7" />
<path d="M344.4 570.0 L342.8 579.1 M342.1 571.5 L349.1 571.0 L350.8 572.5 L348.6 574.6 L342.8 575.2 M353.8 569.6 L352.8 577.9 L362.2 576.6 M362.6 579.1 L367.1 570.3 L371.3 578.3 M363.3 575.5 L371.7 574.6 M373.6 579.0 L374.7 570.8 L381.3 577.7 L382.5 569.6" fill="none" stroke="#dcdcdc" stroke-width="0.8" stroke-linecap="round" stroke-linejoin="round" opacity="1.0"/>
<circle cx="205.7" cy="511.2" r="50.6" fill="none" stroke="#a8a8a8" stroke-width="0.7"/>
<rect x="71.6" y="505.6" width="26.8" height="16.0" fill="#1b6fa9" opacity="1" rx="0" />
<rect x="114.2" y="505.6" width="44.1" height="16.0" fill="#1b6fa9" opacity="1" rx="0" />
<rect x="167.8" y="505.6" width="55.2" height="16.0" fill="#1b6fa9" opacity="1" rx="0" />
<rect x="98.8" y="505.6" width="15.0" height="16.0" fill="#000" opacity="1" rx="0" />
<line x1="65.2" y1="502.0" x2="251.4" y2="502.0" stroke="#e0e0e0" stroke-width="0.9" opacity="1" />
<line x1="70.0" y1="506.4" x2="226.0" y2="506.4" stroke="#bdbdbd" stroke-width="0.5" opacity="0.7" />
<line x1="70.9" y1="493.0" x2="70.9" y2="525.0" stroke="#e0e0e0" stroke-width="0.7" opacity="0.9" />
<line x1="100.0" y1="493.0" x2="100.0" y2="525.0" stroke="#e0e0e0" stroke-width="0.7" opacity="0.9" />
<line x1="114.2" y1="493.0" x2="114.2" y2="525.0" stroke="#e0e0e0" stroke-width="0.7" opacity="0.9" />
<line x1="130.0" y1="493.0" x2="130.0" y2="525.0" stroke="#e0e0e0" stroke-width="0.7" opacity="0.9" />
<line x1="158.3" y1="493.0" x2="158.3" y2="525.0" stroke="#e0e0e0" stroke-width="0.7" opacity="0.9" />
<line x1="193.0" y1="493.0" x2="193.0" y2="525.0" stroke="#e0e0e0" stroke-width="0.7" opacity="0.9" />
<line x1="223.0" y1="493.0" x2="223.0" y2="525.0" stroke="#e0e0e0" stroke-width="0.7" opacity="0.9" />
<line x1="73.0" y1="505.0" x2="98.0" y2="522.0" stroke="#e6e6e6" stroke-width="0.6" opacity="0.8" />
<line x1="98.0" y1="505.0" x2="73.0" y2="522.0" stroke="#e6e6e6" stroke-width="0.6" opacity="0.8" />
<line x1="86.0" y1="492.0" x2="100.0" y2="522.0" stroke="#e6e6e6" stroke-width="0.6" opacity="0.8" />
<line x1="100.0" y1="505.0" x2="114.0" y2="522.0" stroke="#e6e6e6" stroke-width="0.6" opacity="0.8" />
<line x1="114.0" y1="505.0" x2="100.0" y2="522.0" stroke="#e6e6e6" stroke-width="0.6" opacity="0.8" />
<line x1="118.0" y1="522.0" x2="130.0" y2="505.0" stroke="#e6e6e6" stroke-width="0.6" opacity="0.8" />
<line x1="130.0" y1="522.0" x2="146.0" y2="505.0" stroke="#e6e6e6" stroke-width="0.6" opacity="0.8" />
<line x1="146.0" y1="522.0" x2="158.0" y2="505.0" stroke="#e6e6e6" stroke-width="0.6" opacity="0.8" />
<line x1="170.0" y1="522.0" x2="193.0" y2="505.0" stroke="#e6e6e6" stroke-width="0.6" opacity="0.8" />
<line x1="193.0" y1="522.0" x2="223.0" y2="505.0" stroke="#e6e6e6" stroke-width="0.6" opacity="0.8" />
<line x1="170.0" y1="505.0" x2="193.0" y2="522.0" stroke="#e6e6e6" stroke-width="0.6" opacity="0.8" />
<line x1="100.0" y1="500.0" x2="127.0" y2="486.0" stroke="#e6e6e6" stroke-width="0.6" opacity="0.8" />
<path d="M163 504.2 H227.6 V523.6 H59.4 M65.4 516.6 L58.8 522.8 L65.6 529.6" fill="none" stroke="#f26d00" stroke-width="2.3" opacity="1" stroke-linejoin="round" stroke-linecap="round"/>
<line x1="164.0" y1="505.6" x2="226.0" y2="505.2" stroke="#f26d00" stroke-width="1.0" opacity="1" />
<line x1="170.0" y1="528.6" x2="236.4" y2="528.6" stroke="#f2d000" stroke-width="2.1" opacity="1" stroke-dasharray="0.01 4.15" stroke-linecap="round"/>
<line x1="236.4" y1="498.6" x2="236.4" y2="526.0" stroke="#f2d000" stroke-width="2.1" opacity="1" stroke-dasharray="0.01 4.15" stroke-linecap="round"/>
<line x1="229.6" y1="495.0" x2="232.6" y2="520.0" stroke="#9a9a9a" stroke-width="0.6" opacity="1" />
<line x1="231.6" y1="494.0" x2="231.6" y2="522.0" stroke="#7a7a7a" stroke-width="0.5" opacity="1" />
<path d="M235.6 469.4 L256.2 458.4 H284.6" fill="none" stroke="#a8a8a8" stroke-width="0.8" opacity="1" />
<path d="M276 446 L283 459 L277 472.6 M279.4 446 L286.4 459 L280.4 472.6" fill="none" stroke="#bdbdbd" stroke-width="0.9" opacity="1" />
<path d="M96.1 545.2 L94.5 558.1 M93.6 547.7 L101.5 546.2 L104.1 548.9 L101.0 551.3 L94.2 552.5 M105.0 558.5 L111.2 548.0 L115.9 558.2 M106.1 554.5 L116.3 553.5 M120.7 545.1 L119.0 558.5 M118.7 547.3 L127.1 546.0 L129.1 548.1 L126.2 551.0 L119.1 552.5 M122.0 551.0 L128.7 557.0 M130.6 547.5 L141.5 545.9 M135.9 545.2 L134.7 558.1 M144.3 546.2 L142.7 558.3 M148.9 547.7 L148.1 558.3" fill="none" stroke="#d6d6d6" stroke-width="1.0" stroke-linecap="round" stroke-linejoin="round" opacity="1.0"/>
<path d="M102.5 390.0 L99.3 388.9 L95.2 392.0 L94.7 395.3 L97.6 397.3 L102.5 395.9 M106.1 385.8 L104.0 398.5 M104.0 387.5 L111.1 386.4 L112.1 388.8 L109.7 392.1 L104.3 393.1 M107.1 392.2 L111.6 397.3 M119.1 386.2 L115.3 388.6 L114.0 392.9 L116.6 397.3 L120.2 395.6 L122.1 390.4 L120.7 387.2 L118.0 386.5 M132.5 389.7 L128.6 388.6 L125.9 390.9 L126.2 392.6 L130.0 394.4 L130.2 396.6 L127.5 397.9 L122.8 397.6 M141.9 388.6 L138.6 388.4 L135.4 390.5 L135.8 392.4 L139.9 394.1 L140.2 396.1 L136.6 397.8 L132.7 397.3 M144.3 394.4 L150.7 393.2 M162.9 388.4 L158.4 387.5 L155.3 389.7 L156.5 392.3 L160.7 393.0 L160.1 395.2 L157.0 397.2 L152.3 396.1 M165.6 387.6 L163.9 399.4 M164.0 389.4 L173.0 388.2 M163.7 393.4 L170.5 392.2 M163.5 398.1 L172.7 396.6 M182.7 388.2 L178.7 386.7 L175.3 390.3 L174.8 394.0 L177.5 397.0 L182.1 395.9 M182.8 388.7 L194.7 387.6 M188.5 386.8 L187.6 398.5 M196.5 387.2 L194.1 398.3 M203.3 388.0 L199.8 389.7 L198.2 393.7 L200.7 397.3 L204.1 395.4 L206.5 391.4 L204.6 388.2 L202.7 388.1 M208.8 398.7 L209.3 388.2 L214.8 396.9 L216.3 386.4 M222.1 398.7 L227.1 387.7 L229.9 397.9 M223.0 394.1 L230.6 393.4" fill="none" stroke="#dedede" stroke-width="0.85" stroke-linecap="round" stroke-linejoin="round" opacity="1.0"/>
</g>
<circle cx="47.9" cy="47.8" r="12.2" fill="#e7e7e7"/>
<rect x="43.6" y="42.3" width="1.9" height="1.9" fill="#454545" opacity="1" rx="0" />
<rect x="43.6" y="45.3" width="1.9" height="1.9" fill="#454545" opacity="1" rx="0" />
<rect x="43.6" y="48.4" width="1.9" height="1.9" fill="#454545" opacity="1" rx="0" />
<rect x="43.6" y="51.4" width="1.9" height="1.9" fill="#454545" opacity="1" rx="0" />
<rect x="46.6" y="42.3" width="1.9" height="1.9" fill="#454545" opacity="1" rx="0" />
<rect x="46.6" y="45.3" width="1.9" height="1.9" fill="#454545" opacity="1" rx="0" />
<rect x="46.6" y="48.4" width="1.9" height="1.9" fill="#454545" opacity="1" rx="0" />
<rect x="46.6" y="51.4" width="1.9" height="1.9" fill="#454545" opacity="1" rx="0" />
<rect x="49.5" y="42.3" width="1.9" height="1.9" fill="#454545" opacity="1" rx="0" />
<rect x="49.5" y="45.3" width="1.9" height="1.9" fill="#454545" opacity="1" rx="0" />
<rect x="49.5" y="48.4" width="1.9" height="1.9" fill="#454545" opacity="1" rx="0" />
<rect x="49.5" y="51.4" width="1.9" height="1.9" fill="#454545" opacity="1" rx="0" />
<rect x="52.5" y="42.3" width="1.9" height="1.9" fill="#454545" opacity="1" rx="0" />
<rect x="52.5" y="45.3" width="1.9" height="1.9" fill="#454545" opacity="1" rx="0" />
<rect x="52.5" y="48.4" width="1.9" height="1.9" fill="#454545" opacity="1" rx="0" />
<rect x="52.5" y="51.4" width="1.9" height="1.9" fill="#454545" opacity="1" rx="0" />
<path d="M43 49.2 H40 M41.4 47.8 L39.8 49.2 L41.4 50.6" fill="none" stroke="#9a9a9a" stroke-width="0.8" opacity="1" />
<circle cx="77.0" cy="47.8" r="12.2" fill="#e7e7e7"/>
<rect x="74.2" y="42.5" width="9.0" height="7.8" fill="#e7e7e7" stroke="#555" stroke-width="1" opacity="1" rx="1.4" />
<rect x="70.6" y="45.4" width="10.0" height="8.0" fill="#e7e7e7" stroke="#555" stroke-width="1" opacity="1" rx="1.4" />
<circle cx="106.3" cy="47.8" r="12.2" fill="#e7e7e7"/>
<path d="M101.3 52.7 L107.4 46.6" fill="none" stroke="#454545" stroke-width="3.0" opacity="1" stroke-linecap="round"/>
<circle cx="108.7" cy="45.2" r="3.5" fill="#454545"/>
<polygon points="108.6,45.4 111.6,40.6 113.4,42.6" fill="#e7e7e7" opacity="1" />
<circle cx="101.5" cy="52.4" r="0.75" fill="#e7e7e7"/>
<circle cx="135.6" cy="47.8" r="12.2" fill="#4f4f4f"/>
<ellipse cx="135.4" cy="48.6" rx="10" ry="3.7" fill="none" stroke="#222" stroke-width="0.8" stroke-dasharray="1.6 1.1"/>
<path d="M139.8 43.2 L137.6 51.6 L135.6 49.4 L131.2 53.6 L129.8 52.2 L134.2 48 L132 46 Z" fill="#0a0a0a" opacity="1" />
<circle cx="164.6" cy="47.8" r="12.2" fill="#e7e7e7"/>
<path d="M158.5 42.9 V52.8 M170.9 42.9 V52.8 M158.5 44.2 H170.9" fill="none" stroke="#454545" stroke-width="1.0" opacity="1" />
<path d="M158.8 44.2 l2.4 -1.3 v2.6 z M170.6 44.2 l-2.4 -1.3 v2.6 z" fill="#454545" opacity="1" />
<circle cx="325.4" cy="47.8" r="12.2" fill="#3b3b3b"/>
<circle cx="325.4" cy="47.8" r="6.4" fill="none" stroke="#575757" stroke-width="0.8" stroke-dasharray="4.2 2.5" />
<path d="M325.4 47.8 V53.8 M325.4 47.8 L320.6 45 M325.4 47.8 L330.2 45 M325.4 40 V42.6 M324.2 41.2 L325.4 39.8 L326.6 41.2" fill="none" stroke="#575757" stroke-width="0.8" opacity="1" />
<circle cx="354.6" cy="47.8" r="12.2" fill="#3b3b3b"/>
<rect x="348.3" y="43.6" width="12.6" height="8.5" fill="#575757" opacity="1" rx="0" />
<g clip-path="url(#hc)">
<line x1="337.5" y1="52.1" x2="346.0" y2="43.6" stroke="#3b3b3b" stroke-width="1.5" opacity="1" />
<line x1="341.1" y1="52.1" x2="349.6" y2="43.6" stroke="#3b3b3b" stroke-width="1.5" opacity="1" />
<line x1="344.7" y1="52.1" x2="353.2" y2="43.6" stroke="#3b3b3b" stroke-width="1.5" opacity="1" />
<line x1="348.3" y1="52.1" x2="356.8" y2="43.6" stroke="#3b3b3b" stroke-width="1.5" opacity="1" />
<line x1="351.9" y1="52.1" x2="360.4" y2="43.6" stroke="#3b3b3b" stroke-width="1.5" opacity="1" />
<line x1="355.5" y1="52.1" x2="364.0" y2="43.6" stroke="#3b3b3b" stroke-width="1.5" opacity="1" />
<line x1="359.1" y1="52.1" x2="367.6" y2="43.6" stroke="#3b3b3b" stroke-width="1.5" opacity="1" />
<line x1="362.7" y1="52.1" x2="371.2" y2="43.6" stroke="#3b3b3b" stroke-width="1.5" opacity="1" />
</g>
<circle cx="384.0" cy="47.8" r="12.2" fill="#3b3b3b"/>
<path d="M383.6 47.8 V39.4 M383.6 47.8 H392.2 M383.6 47.8 L377.8 53.7" fill="none" stroke="#5e5e5e" stroke-width="1.2" opacity="1" />
<circle cx="383.6" cy="47.8" r="1.2" fill="#6a6a6a"/>
<circle cx="413.4" cy="47.8" r="12.2" fill="#b5b5b5"/>
<path d="M408.4 52 L418.6 43.2" fill="none" stroke="#fff" stroke-width="3.4" opacity="1" />
<line x1="410.8" y1="49.5" x2="409.8" y2="48.3" stroke="#b5b5b5" stroke-width="0.6" opacity="1" />
<line x1="412.8" y1="47.7" x2="411.8" y2="46.5" stroke="#b5b5b5" stroke-width="0.6" opacity="1" />
<line x1="414.8" y1="46.0" x2="413.8" y2="44.8" stroke="#b5b5b5" stroke-width="0.6" opacity="1" />
<line x1="416.9" y1="44.2" x2="415.9" y2="43.0" stroke="#b5b5b5" stroke-width="0.6" opacity="1" />
<circle cx="442.1" cy="47.8" r="12.2" fill="#3b3b3b"/>
<path d="M437 51.6 H447.8 V42.6 Z" fill="none" stroke="#575757" stroke-width="1.9" opacity="1" stroke-linejoin="round"/>
<circle cx="471.1" cy="47.8" r="12.2" fill="#3b3b3b"/>
<circle cx="471.3" cy="47.8" r="6.5" fill="#575757"/>
<rect x="467.0" y="46.8" width="8.6" height="2.2" fill="#3b3b3b" opacity="1" rx="1" />
<circle cx="500.4" cy="47.8" r="12.2" fill="#3b3b3b"/>
<rect x="494.8" y="42.3" width="11.4" height="11.2" fill="#575757" opacity="1" rx="2" />
<path d="M500.5 51.4 V45.4 M497.4 47.8 L500.5 44.6 L503.6 47.8" fill="none" stroke="#3b3b3b" stroke-width="1.3" opacity="1" />
<circle cx="748.8" cy="47.8" r="12.2" fill="#e7e7e7"/>
<text x="748.7" y="54" font-size="16.4" fill="#5a5a5a" text-anchor="middle">?</text>
<circle cx="778.2" cy="47.8" r="12.2" fill="#e7e7e7"/>
<path d="M775.6 45.6 H773.8 V53.4 H782.6 V45.6 H780.8 M778.2 50 V41.2 M776 43.2 L778.2 41 L780.4 43.2" fill="none" stroke="#555" stroke-width="1.0" opacity="1" />
<rect x="29.6" y="165.6" width="58.8" height="301.6" fill="#000" opacity="1" rx="0" />
<rect x="29.6" y="165.6" width="58.8" height="2.6" fill="#222" opacity="1" rx="0" />
<rect x="29.6" y="464.6" width="58.8" height="2.4" fill="#222" opacity="1" rx="0" />
<rect x="86.2" y="165.6" width="2.1" height="301.4" fill="#222" opacity="1" rx="0" />
<rect x="57.8" y="168.0" width="1.4" height="297.0" fill="#2b2b2b" opacity="1" rx="0" />
<path d="M43.2 177.3 L37.5 182.4 L43.2 187.5 M50.5 177.3 L44.8 182.4 L50.5 187.5" fill="none" stroke="#fff" stroke-width="1.3" opacity="1" />
<path d="M38.0 203.0 l5.2 -4.6 v2.6 c5.0 0 6.4 3 3.2 8.6 c-1.2 -2.6 -2.6 -3.8 -3.2 -3.8 v2.4 z" fill="#fff" opacity="1" />
<path d="M49.6 225.4 l-5.2 -4.6 v2.6 c-5.0 0 -6.4 3 -3.2 8.6 c1.2 -2.6 2.6 -3.8 3.2 -3.8 v2.4 z" fill="#4c4c4c" opacity="1" />
<path d="M72.00 176.00 A5.3 5.3 0 0 1 75.48 177.30" fill="none" stroke="#f2f2f2" stroke-width="3.0" opacity="1" />
<path d="M75.75 177.55 A5.3 5.3 0 0 1 77.29 180.93" fill="none" stroke="#d0d0d0" stroke-width="3.0" opacity="1" />
<path d="M77.30 181.30 A5.3 5.3 0 0 1 76.00 184.78" fill="none" stroke="#a8a8a8" stroke-width="3.0" opacity="1" />
<path d="M75.75 185.05 A5.3 5.3 0 0 1 72.37 186.59" fill="none" stroke="#808080" stroke-width="3.0" opacity="1" />
<path d="M72.00 186.60 A5.3 5.3 0 0 1 68.52 185.30" fill="none" stroke="#6a6a6a" stroke-width="3.0" opacity="1" />
<path d="M68.25 185.05 A5.3 5.3 0 0 1 66.71 181.67" fill="none" stroke="#909090" stroke-width="3.0" opacity="1" />
<path d="M66.70 181.30 A5.3 5.3 0 0 1 68.00 177.82" fill="none" stroke="#b8b8b8" stroke-width="3.0" opacity="1" />
<path d="M68.25 177.55 A5.3 5.3 0 0 1 71.63 176.01" fill="none" stroke="#e0e0e0" stroke-width="3.0" opacity="1" />
<path d="M65 211 L66.2 208 L73 201.2 L75 203.2 L68.2 210 Z" fill="#fff" opacity="1" />
<path d="M72.6 200 L76.4 203.8" fill="none" stroke="#fff" stroke-width="1.6" opacity="1" stroke-linecap="round"/>
<path d="M75.4 201 L78 198.4" fill="none" stroke="#fff" stroke-width="3.4" opacity="1" stroke-linecap="round"/>
<path d="M65.3 230.8 L72 224.4 L78.7 230.8" fill="none" stroke="#333" stroke-width="1.1" opacity="1" />
<path d="M65.3 449.8 L72 456.2 L78.7 449.8" fill="none" stroke="#efefef" stroke-width="1.2" opacity="1" />
<rect x="62.1" y="239.8" width="20.0" height="19.9" fill="#4b7db6" opacity="1" rx="0" />
<rect x="62.1" y="262.2" width="20.0" height="19.9" fill="#a9d5f2" opacity="1" rx="0" />
<rect x="62.1" y="284.7" width="20.0" height="19.9" fill="#7b9c6c" opacity="1" rx="0" />
<rect x="62.1" y="307.1" width="20.0" height="19.9" fill="#aad593" opacity="1" rx="0" />
<rect x="62.1" y="329.6" width="20.0" height="19.9" fill="#d6dd8c" opacity="1" rx="0" />
<rect x="62.1" y="352.1" width="20.0" height="19.9" fill="#e5bc7c" opacity="1" rx="0" />
<rect x="62.1" y="374.5" width="20.0" height="19.9" fill="#e6e6e6" opacity="1" rx="0" />
<rect x="62.1" y="397.0" width="20.0" height="19.9" fill="#6f6f6f" opacity="1" rx="0" />
<rect x="62.4" y="419.7" width="19.4" height="19.4" fill="#050505" stroke="#1e1e1e" stroke-width="0.8" opacity="1" rx="0" />
<rect x="34.4" y="240.1" width="19.6" height="19.5" fill="none" stroke="#3a3a3a" stroke-width="0.8" opacity="1" rx="0" />
<circle cx="44.2" cy="249.8" r="1.7" fill="#fff"/>
<rect x="34.4" y="262.6" width="19.6" height="19.5" fill="none" stroke="#3a3a3a" stroke-width="0.8" opacity="1" rx="0" />
<line x1="34.4" y1="272.2" x2="54.0" y2="272.2" stroke="#fff" stroke-width="1.1" opacity="1" />
<rect x="34.4" y="285.0" width="19.6" height="19.5" fill="none" stroke="#3a3a3a" stroke-width="0.8" opacity="1" rx="0" />
<rect x="34.4" y="307.4" width="19.6" height="19.5" fill="none" stroke="#c8c8c8" stroke-width="1.0" opacity="1" rx="0" />
<path d="M40.6 322.1 L43.4 311.5 Q44.2 309.5 45 311.5 L47.8 322.1 V326.8 H40.6 Z M40.6 322.1 H47.8" fill="none" stroke="#e8e8e8" stroke-width="0.8" opacity="1" />
<circle cx="44.2" cy="310.9" r="0.9" fill="#fff"/>
<rect x="34.4" y="329.9" width="19.6" height="19.5" fill="none" stroke="#3a3a3a" stroke-width="0.8" opacity="1" rx="0" />
<path d="M40.8 349.2 V342.0 L42.8 340.0 V335.2 L44.2 333.2 L45.6 335.2 V340.0 L47.6 342.0 V349.2" fill="none" stroke="#e0e0e0" stroke-width="0.8" opacity="1" />
<line x1="40.8" y1="342.2" x2="47.6" y2="342.2" stroke="#e0e0e0" stroke-width="0.7" opacity="1" />
<rect x="34.4" y="352.4" width="19.6" height="19.5" fill="none" stroke="#5a5a5a" stroke-width="0.8" opacity="1" rx="0" />
<path d="M39.6 364.7 L46.2 358.2 L49.6 361.7 L43 368.1 Z" fill="#fff" opacity="1" />
<path d="M39.6 364.7 L42 362.4 L45.4 365.8 L43 368.1 Z" fill="#000" stroke="#fff" stroke-width="0.7" opacity="1" />
<line x1="38.8" y1="369.4" x2="48.4" y2="369.4" stroke="#d8d8d8" stroke-width="0.8" opacity="1" />
<rect x="34.4" y="374.8" width="19.6" height="19.5" fill="none" stroke="#3a3a3a" stroke-width="0.8" opacity="1" rx="0" />
<path d="M41.4 388.5 L44.2 378.1 L47 388.5 V394.1 H41.4 Z M41.4 388.5 H47" fill="none" stroke="#4a4a4a" stroke-width="0.8" opacity="1" />
<rect x="34.4" y="397.3" width="19.6" height="19.5" fill="none" stroke="#3a3a3a" stroke-width="0.8" opacity="1" rx="0" />
<path d="M44.2 400.4 Q47 405.4 45.6 409.0 H42.8 Q41.4 405.4 44.2 400.4 Z" fill="#4a4a4a" opacity="1" />
<path d="M42 409.8 H46.4 V416.6 H42 Z" fill="none" stroke="#4a4a4a" stroke-width="0.8" opacity="1" />
<rect x="34.4" y="419.7" width="19.6" height="19.5" fill="none" stroke="#3a3a3a" stroke-width="0.8" opacity="1" rx="0" />
<rect x="38.6" y="423.8" width="10.4" height="4.4" fill="#4a4a4a" opacity="1" rx="1" />
<path d="M49 426.0 H50.8 V431.0 H44.4 V433.4 M42.8 433.4 H46 V438.8 H42.8 Z" fill="none" stroke="#4a4a4a" stroke-width="0.9" opacity="1" />
<rect x="34.4" y="442.2" width="19.6" height="19.5" fill="none" stroke="#3a3a3a" stroke-width="0.8" opacity="1" rx="0" />
<path d="M42.6 447.9 L45.4 445.2 V450.7 H42.6 Z" fill="#4a4a4a" opacity="1" />
<path d="M41.6 461.5 V453.9 L42.8 451.5 H45.6 L46.8 453.9 V461.5" fill="none" stroke="#4a4a4a" stroke-width="0.8" opacity="1" />
<line x1="41.6" y1="455.5" x2="46.8" y2="455.5" stroke="#4a4a4a" stroke-width="0.7" opacity="1" />
<rect x="729.3" y="160.0" width="67.0" height="292.0" fill="#000" opacity="1" rx="0" />
<line x1="729.3" y1="183.0" x2="796.0" y2="183.0" stroke="#3e3e3e" stroke-width="1.0" opacity="1" />
<line x1="729.3" y1="205.2" x2="796.0" y2="205.2" stroke="#3e3e3e" stroke-width="1.0" opacity="1" />
<line x1="729.3" y1="227.3" x2="796.0" y2="227.3" stroke="#3e3e3e" stroke-width="1.0" opacity="1" />
<path d="M754.8 165.4 H764.6 L768.4 169.2 V175.2 H754.8 Z" fill="none" stroke="#f2f2f2" stroke-width="1.0" opacity="1" />
<path d="M764.2 165.2 V169.6 H768.6 Z" fill="#f2f2f2" opacity="1" />
<rect x="765.4" y="172.6" width="5.6" height="5.6" fill="#000" opacity="1" rx="0" />
<path d="M765.8 175.2 H770.6 M768.2 172.8 V177.6" fill="none" stroke="#e0e0e0" stroke-width="0.9" opacity="1" />
<rect x="754.8" y="187.2" width="13.6" height="10.4" fill="none" stroke="#f2f2f2" stroke-width="1.0" opacity="1" rx="0" />
<path d="M756.8 195.8 L759.6 193 L761 194.4 L763.6 191.2 L766.8 195.8 Z" fill="#f2f2f2" opacity="1" />
<circle cx="757.9" cy="190.6" r="1" fill="#f2f2f2"/>
<rect x="765.4" y="195.4" width="5.6" height="5.6" fill="#000" opacity="1" rx="0" />
<path d="M765.8 198 H770.6 M768.2 195.6 V200.4" fill="none" stroke="#e0e0e0" stroke-width="0.9" opacity="1" />
<path d="M755.8 221.4 V211.6 H768.2 V218" fill="none" stroke="#f2f2f2" stroke-width="1.0" opacity="1" />
<circle cx="755.8" cy="211.6" r="1.5" fill="#f2f2f2"/><circle cx="768.2" cy="211.6" r="1.5" fill="#f2f2f2"/>
<path d="M765.9 220.4 H770.7 M768.3 218 V222.8" fill="none" stroke="#e0e0e0" stroke-width="0.9" opacity="1" />
<path d="M756.2 232.2 H766.6 V235 H765.6 Q765.4 233.6 764 233.5 H762.4 V240.6 Q762.4 241.6 764.2 241.7 V242.6 H758.6 V241.7 Q760.4 241.6 760.4 240.6 V233.5 H758.8 Q757.4 233.6 757.2 235 H756.2 Z" fill="#f2f2f2" opacity="1" />
<path d="M765.8 242.2 H770.4 M768.1 239.9 V244.5" fill="none" stroke="#e0e0e0" stroke-width="0.9" opacity="1" />
<line x1="729.3" y1="249.4" x2="796.0" y2="249.4" stroke="#303030" stroke-width="1.0" opacity="1" />
<rect x="748.9" y="249.9" width="47.2" height="39.2" fill="#fff" opacity="1" rx="0" />
<rect x="748.9" y="289.1" width="47.2" height="1.3" fill="#b4b4b4" opacity="1" rx="0" />
<line x1="729.3" y1="270.3" x2="748.9" y2="270.3" stroke="#2a2a2a" stroke-width="1.0" opacity="1" />
<line x1="729.3" y1="290.1" x2="748.9" y2="290.1" stroke="#2a2a2a" stroke-width="1.0" opacity="1" />
<path d="M732.8 259.9 Q738.8 252.9 744.8 259.9 Q738.8 266.9 732.8 259.9 Z" fill="#fff" opacity="1" />
<circle cx="738.8" cy="259.9" r="2.5" fill="#000"/><circle cx="739.5" cy="259.3" r="0.9" fill="#fff"/>
<circle cx="733.5" cy="279.9" r="2.05" fill="#fff"/>
<circle cx="738.9" cy="279.9" r="2.05" fill="#fff"/>
<circle cx="744.3" cy="279.9" r="2.05" fill="#fff"/>
<rect x="748.9" y="290.4" width="47.2" height="39.2" fill="#fff" opacity="1" rx="0" />
<rect x="748.9" y="329.6" width="47.2" height="1.3" fill="#b4b4b4" opacity="1" rx="0" />
<line x1="729.3" y1="310.8" x2="748.9" y2="310.8" stroke="#2a2a2a" stroke-width="1.0" opacity="1" />
<line x1="729.3" y1="330.6" x2="748.9" y2="330.6" stroke="#2a2a2a" stroke-width="1.0" opacity="1" />
<path d="M732.8 300.4 Q738.8 293.4 744.8 300.4 Q738.8 307.4 732.8 300.4 Z" fill="#fff" opacity="1" />
<circle cx="738.8" cy="300.4" r="2.5" fill="#000"/><circle cx="739.5" cy="299.8" r="0.9" fill="#fff"/>
<circle cx="733.5" cy="320.4" r="2.05" fill="#fff"/>
<circle cx="738.9" cy="320.4" r="2.05" fill="#fff"/>
<circle cx="744.3" cy="320.4" r="2.05" fill="#fff"/>
<rect x="748.9" y="330.8" width="47.2" height="39.2" fill="#fff" opacity="1" rx="0" />
<rect x="748.9" y="370.0" width="47.2" height="1.3" fill="#d0d0d0" opacity="1" rx="0" />
<line x1="729.3" y1="351.2" x2="748.9" y2="351.2" stroke="#2a2a2a" stroke-width="1.0" opacity="1" />
<line x1="729.3" y1="371.0" x2="748.9" y2="371.0" stroke="#2a2a2a" stroke-width="1.0" opacity="1" />
<path d="M732.8 340.8 Q738.8 333.8 744.8 340.8 Q738.8 347.8 732.8 340.8 Z" fill="#fff" opacity="1" />
<circle cx="738.8" cy="340.8" r="2.5" fill="#000"/><circle cx="739.5" cy="340.2" r="0.9" fill="#fff"/>
<circle cx="733.5" cy="360.8" r="2.05" fill="#fff"/>
<circle cx="738.9" cy="360.8" r="2.05" fill="#fff"/>
<circle cx="744.3" cy="360.8" r="2.05" fill="#fff"/>
<rect x="748.9" y="371.2" width="47.2" height="39.2" fill="#fff" opacity="1" rx="0" />
<rect x="748.9" y="410.4" width="47.2" height="1.3" fill="#d0d0d0" opacity="1" rx="0" />
<line x1="729.3" y1="391.6" x2="748.9" y2="391.6" stroke="#2a2a2a" stroke-width="1.0" opacity="1" />
<line x1="729.3" y1="411.4" x2="748.9" y2="411.4" stroke="#2a2a2a" stroke-width="1.0" opacity="1" />
<path d="M732.8 381.2 Q738.8 374.2 744.8 381.2 Q738.8 388.2 732.8 381.2 Z" fill="#fff" opacity="1" />
<circle cx="738.8" cy="381.2" r="2.5" fill="#000"/><circle cx="739.5" cy="380.6" r="0.9" fill="#fff"/>
<circle cx="733.5" cy="401.2" r="2.05" fill="#fff"/>
<circle cx="738.9" cy="401.2" r="2.05" fill="#fff"/>
<circle cx="744.3" cy="401.2" r="2.05" fill="#fff"/>
<rect x="748.9" y="412.3" width="47.2" height="39.6" fill="#fff" opacity="1" rx="0" />
<rect x="751.6" y="415.1" width="41.8" height="34.0" fill="#000" opacity="1" rx="0" />
<line x1="729.3" y1="432.1" x2="748.9" y2="432.1" stroke="#2a2a2a" stroke-width="1.0" opacity="1" />
<line x1="729.3" y1="451.9" x2="748.9" y2="451.9" stroke="#2a2a2a" stroke-width="1.0" opacity="1" />
<path d="M732.8 421.7 Q738.8 414.7 744.8 421.7 Q738.8 428.7 732.8 421.7 Z" fill="#fff" opacity="1" />
<circle cx="738.8" cy="421.7" r="2.5" fill="#000"/><circle cx="739.5" cy="421.1" r="0.9" fill="#fff"/>
<circle cx="733.5" cy="441.7" r="2.05" fill="#fff"/>
<circle cx="738.9" cy="441.7" r="2.05" fill="#fff"/>
<circle cx="744.3" cy="441.7" r="2.05" fill="#fff"/>
<path d="M758.6 274.6 Q762.6 270.6 766.6 272.6 Q770 276 776 277 M770.6 260.4 Q771 271 776.4 277 Q780 279 783.4 278 M776.4 266 Q781.4 261.6 787.4 264.6 M781 271 Q784.4 274.6 789.6 273.6" fill="none" stroke="#62bdf4" stroke-width="1.0" opacity="0.9" />
<rect x="768.4" y="296.4" width="1.4" height="18.0" fill="#f6c400" opacity="1" rx="0" />
<circle cx="769.2" cy="311.4" r="0.9" fill="#222"/>
<line x1="785.6" y1="297.0" x2="785.6" y2="312.0" stroke="#f8dc70" stroke-width="0.9" opacity="0.8" />
<polygon points="771.0,313.4 781.6,307.6 783.0,310.6 772.4,316.6" fill="#f4d040" opacity="0.8" />
<rect x="757.6" y="309.6" width="5.6" height="3.2" fill="none" stroke="#9cc4dc" stroke-width="0.5" opacity="1" rx="0" />
<rect x="758.6" y="308.4" width="4.0" height="1.2" fill="#f0c850" opacity="1" rx="0" />
<line x1="756.0" y1="314.4" x2="764.0" y2="314.4" stroke="#a8c8e0" stroke-width="0.6" opacity="1" />
<line x1="765.0" y1="318.4" x2="783.6" y2="318.4" stroke="#c8c8c8" stroke-width="0.6" opacity="1" />
<line x1="753.6" y1="321.4" x2="763.0" y2="321.4" stroke="#6cb4e0" stroke-width="0.9" opacity="1" />
<line x1="760.0" y1="321.4" x2="763.0" y2="321.4" stroke="#f0c850" stroke-width="0.9" opacity="1" />
<line x1="774.0" y1="323.0" x2="786.0" y2="323.0" stroke="#f4e8a8" stroke-width="0.6" opacity="1" />
<path d="M767.0 347.0 C767.9 345.6 767.3 343.4 768.6 342.6 C769.9 341.8 773.7 341.6 775.0 342.2 C776.3 342.8 775.6 345.3 776.6 346.4 C777.6 347.5 779.9 347.7 781.0 349.0 C782.1 350.3 783.7 352.6 783.4 354.0 C783.1 355.4 781.2 356.8 779.0 357.6 C776.8 358.4 772.7 358.6 770.0 358.6 C767.3 358.6 765.2 358.2 763.0 357.4 C760.8 356.6 757.7 355.3 757.0 354.0 C756.3 352.7 758.0 350.1 759.0 349.6 C760.0 349.1 761.7 351.4 763.0 351.0 C764.3 350.6 766.1 348.4 767.0 347.0Z" fill="#a4daf8" opacity="1" />
<rect x="767.4" y="351.2" width="8.8" height="5.0" fill="#8ccff4" opacity="0.85" rx="0" />
<path d="M760.6 353.6 l2 -3 l1.4 2.6 M774.6 353.6 l2.2 -3.6 l1.6 3.6 l2 -1.6" fill="none" stroke="#1c70b0" stroke-width="1.1" opacity="1" />
<text x="751.6" y="394" font-size="5.3" fill="#62bdf2" textLength="41.8" lengthAdjust="spacingAndGlyphs">WIND VERANO</text>
<line x1="769.2" y1="418.6" x2="769.2" y2="434.0" stroke="#e8e8e8" stroke-width="1.2" opacity="0.9" stroke-dasharray="1.6 0.9"/>
<path d="M772.6 435.6 L780.6 430.4 L782 433 L774 438 Z" fill="none" stroke="#bdbdbd" stroke-width="0.6" opacity="1" />
<path d="M766 440.4 h10 v2.4 h-7 M778.6 441 h5 v2 h-5 z" fill="none" stroke="#d8d8d8" stroke-width="0.6" opacity="1" />
<line x1="764.0" y1="444.6" x2="785.0" y2="444.6" stroke="#8c8c8c" stroke-width="0.5" opacity="1" />
<rect x="711.4" y="586.6" width="8.6" height="4.2" fill="#686868" opacity="1" rx="0" />
<rect x="739.1" y="586.6" width="36.4" height="4.2" fill="#686868" opacity="1" rx="0" />
<text x="714.0" y="584.5" font-size="6.2" fill="#6c6c6c">0.7&quot;</text>
<text x="768.6" y="584.5" font-size="6.2" fill="#6c6c6c">2.8&quot;</text>
<text x="704.7" y="596.8" font-size="6.2" fill="#6c6c6c">0.8&quot;</text>
<text x="732.4" y="596.8" font-size="6.2" fill="#6c6c6c">1.8&quot;</text>
<text x="767.2" y="596.8" font-size="6.2" fill="#6c6c6c">12.8</text>
</g>
</svg>
</body></html>
